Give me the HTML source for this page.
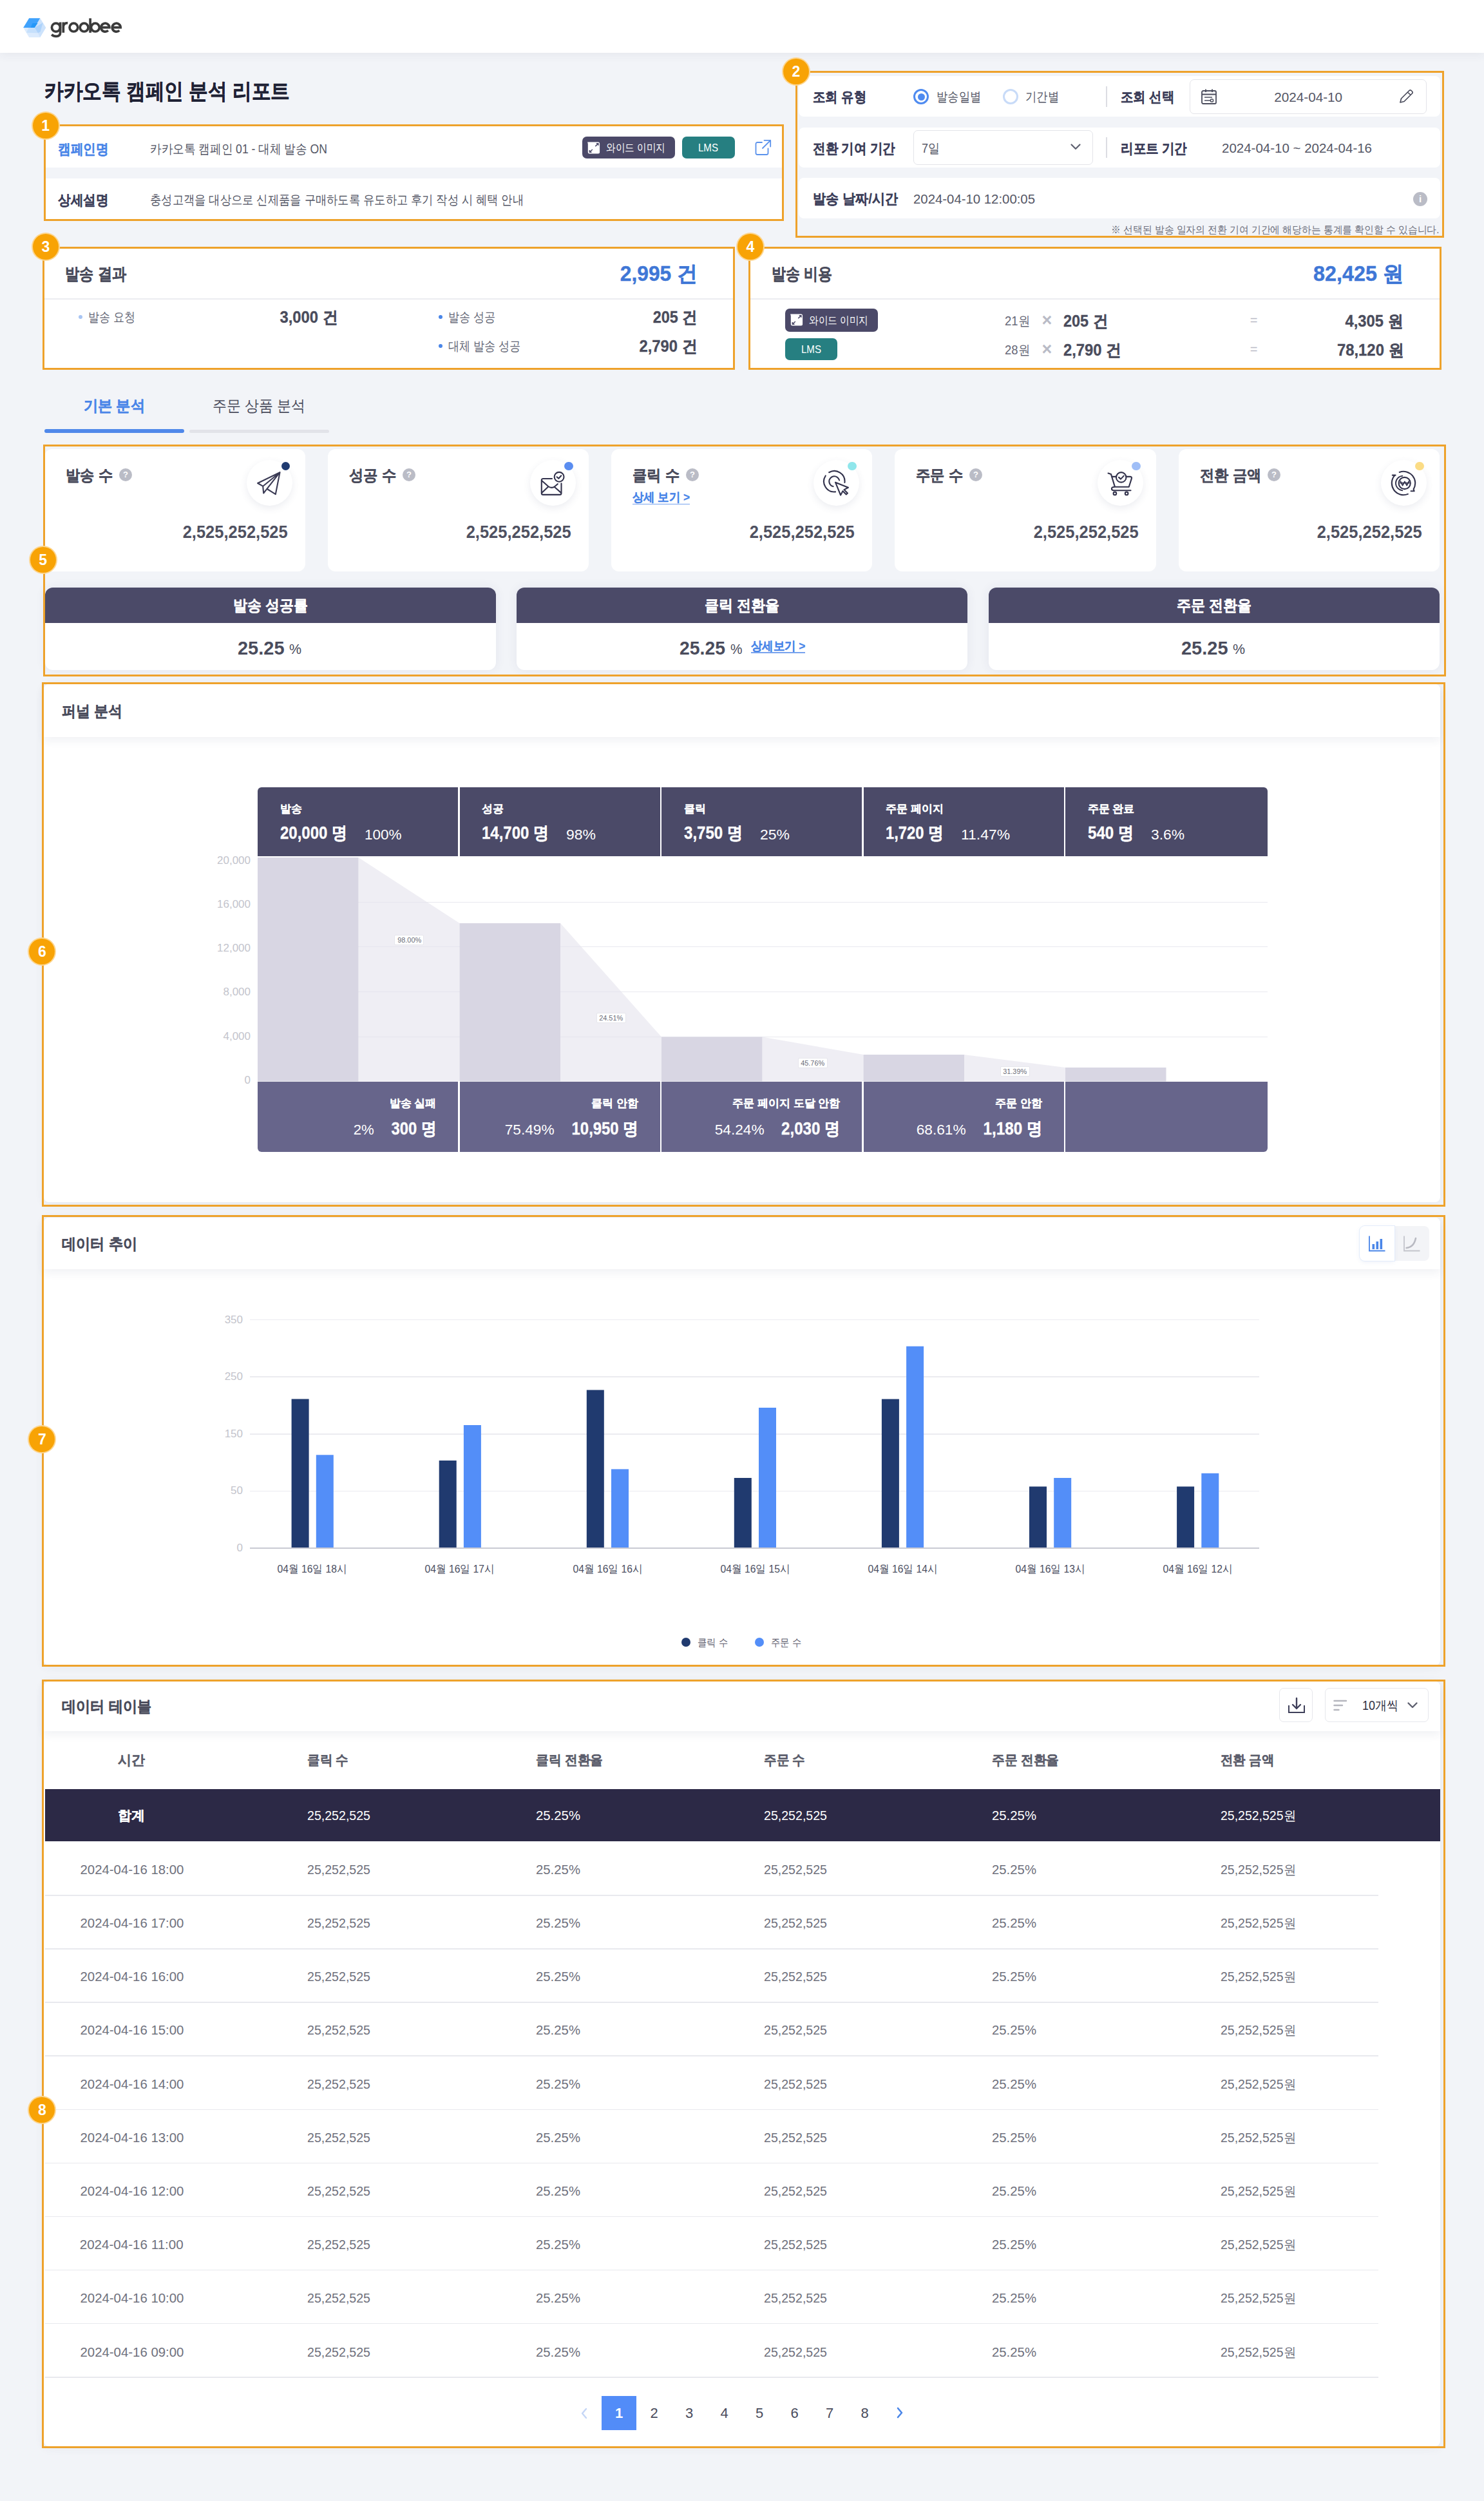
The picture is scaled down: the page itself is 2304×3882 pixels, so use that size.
<!DOCTYPE html>
<html><head><meta charset="utf-8"><title>groobee report</title>
<style>
*{box-sizing:border-box;margin:0;padding:0}
html,body{width:2304px;height:3882px;overflow:hidden}
body{position:relative;background:#f2f4f8;font-family:"Liberation Sans",sans-serif;color:#4a4c5c}
.a{position:absolute;white-space:nowrap}
</style></head><body>
<div class="a" style="left:0.0px;top:0.0px;width:2304.0px;height:82.0px;background:#fff;z-index:2;box-shadow:0 3px 14px rgba(50,55,90,.07)"></div>
<svg class="a" style="left:30.0px;top:22.0px;z-index:3;" width="46" height="40" viewBox="0 0 46 40">
<polygon points="6.2,21.1 15.2,6.2 32.2,6.2 41.2,21.1 32.2,36 15.2,36" fill="#dcebfd"/>
<polygon points="23.6,21.1 32.2,6.2 41.2,21.1 32.2,36 28.8,29.2" fill="#cde3fc"/>
<polygon points="23.6,21.1 36.6,13.2 32.6,27.5 28.8,29.2" fill="#aed3fb"/>
<polygon points="11,28.8 14.5,21.1 23.6,21.1 28.8,29.2" fill="#c6e0fc"/>
<polygon points="6.2,21.1 15.2,6.2 32.2,6.2 23.6,21.1" fill="#3fa2fc"/>
<polygon points="17.5,21.1 20.5,14 28.5,14 23.6,21.1" fill="#2497f8"/>
</svg>
<svg class="a" style="left:74.0px;top:24.0px;z-index:3;" width="120" height="38" viewBox="0 0 120 38"><g stroke="#3b3b3b" stroke-width="3.7" fill="none">
<circle cx="12.9" cy="18.6" r="6.5"/><path d="M19.6 10.5 V26.5 Q19.6 32.3 13.2 32.3 Q9 32.3 6.2 29.6"/>
<path d="M24.3 10.5 V26.8 M24.3 17.5 Q24.6 11.6 31.2 11.6"/>
<circle cx="40.4" cy="18.6" r="6.4"/><circle cx="56.6" cy="18.6" r="6.4"/>
<path d="M66.1 4.4 V26.8"/><circle cx="73.9" cy="18.6" r="6.4"/>
<path d="M82.9 18.6 H95.8 A6.5 6.5 0 1 0 93.9 23.3"/>
<path d="M100.3 18.6 H113.2 A6.5 6.5 0 1 0 111.3 23.3"/>
</g></svg>
<div class="a" style="left:68.5px;top:115.5px;height:51px;line-height:51px;font-size:34.0px;color:#1f2235;font-weight:bold;z-index:5;;-webkit-text-stroke:0.42px #1f2235"><span class="t" id="t1" style="display:inline-block;transform:scaleX(0.8732);transform-origin:left center;">카카오톡 캠페인 분석 리포트</span></div>
<div class="a" style="left:71.0px;top:196.0px;width:1143.0px;height:64.0px;background:#fff;z-index:1;"></div>
<div class="a" style="left:71.0px;top:277.0px;width:1143.0px;height:63.0px;background:#fff;z-index:1;"></div>
<div class="a" style="left:89.5px;top:214.5px;height:33px;line-height:33px;font-size:22.0px;color:#4a86e8;font-weight:bold;z-index:5;;-webkit-text-stroke:0.27px #4a86e8"><span class="t" id="t2" style="display:inline-block;transform:scaleX(0.8920);transform-origin:left center;">캠페인명</span></div>
<div class="a" style="left:232.8px;top:216.0px;height:30px;line-height:30px;font-size:20.0px;color:#555766;font-weight:normal;z-index:5;"><span class="t" id="t3" style="display:inline-block;transform:scaleX(0.8807);transform-origin:left center;">카카오톡 캠페인 01 - 대체 발송 ON</span></div>
<div class="a" style="left:89.5px;top:293.5px;height:33px;line-height:33px;font-size:22.0px;color:#3d3f5a;font-weight:bold;z-index:5;;-webkit-text-stroke:0.27px #3d3f5a"><span class="t" id="t4" style="display:inline-block;transform:scaleX(0.8920);transform-origin:left center;">상세설명</span></div>
<div class="a" style="left:232.8px;top:295.0px;height:30px;line-height:30px;font-size:20.0px;color:#555766;font-weight:normal;z-index:5;"><span class="t" id="t5" style="display:inline-block;transform:scaleX(0.8657);transform-origin:left center;">충성고객을 대상으로 신제품을 구매하도록 유도하고 후기 작성 시 혜택 안내</span></div>
<div class="a" style="left:904.0px;top:211.5px;width:144.0px;height:34.5px;background:#4b4968;z-index:4;border-radius:7px"></div>
<svg class="a" style="left:911.0px;top:218.5px;z-index:5;" width="22" height="22" viewBox="0 0 22 22">
<path d="M1.1 1.4 H17.6 A2.5 2.5 0 0 1 20.1 3.9 V17.1 A2.5 2.5 0 0 1 17.6 19.6 H4.3 A2.5 2.5 0 0 1 1.8 17.1 V4.2 Z" fill="#fff"/>
<path d="M13.3 8.1 L17.9 3.7 M14.8 3.7 H17.9 V6.8 M8.8 13 L4.4 17.2 M4.4 14 V17.2 H7.5" stroke="#4b4968" stroke-width="1.5" fill="none"/>
</svg>
<div class="a" style="left:941.0px;top:217.2px;height:26px;line-height:26px;font-size:17.0px;color:#fff;font-weight:normal;z-index:5;"><span class="t" id="t6" style="display:inline-block;transform:scaleX(0.8620);transform-origin:left center;">와이드 이미지</span></div>
<div class="a" style="left:1059.0px;top:211.5px;width:81.6px;height:34.5px;background:#267f81;z-index:4;border-radius:7px"></div>
<div class="a" style="left:899.8px;width:400px;text-align:center;top:217.2px;height:26px;line-height:26px;font-size:17.0px;color:#fff;font-weight:normal;z-index:5;"><span class="t" id="t7" style="display:inline-block;transform:scaleX(0.8865);transform-origin:center center;">LMS</span></div>
<svg class="a" style="left:1172.0px;top:216.0px;z-index:6;" width="26" height="26" viewBox="0 0 26 26">
<path d="M11 5 H4 A2.5 2.5 0 0 0 1.5 7.5 V21.5 A2.5 2.5 0 0 0 4 24 H18 A2.5 2.5 0 0 0 20.5 21.5 V14.5" stroke="#5b92ec" stroke-width="1.8" fill="none" stroke-linecap="round"/>
<path d="M14.5 1.8 H24.2 V11.5 M24.2 1.8 L12 14" stroke="#5b92ec" stroke-width="1.8" fill="none" stroke-linecap="round" stroke-linejoin="round"/>
</svg>
<div class="a" style="left:68px;top:193px;width:1149px;height:150px;border:3px solid #eea22b;z-index:30"></div>
<div class="a" style="left:50.7px;top:174.6px;width:40px;height:40px;border-radius:50%;background:#f8a305;box-shadow:0 0 0 2px #fdd690;z-index:31;color:#fff;font-weight:bold;font-size:23px;line-height:40px;text-align:center">1</div>
<div class="a" style="left:1239.6px;top:117.7px;width:996.8px;height:63.3px;background:#fff;z-index:1;border-radius:8px"></div>
<div class="a" style="left:1239.6px;top:197.7px;width:996.8px;height:62.3px;background:#fff;z-index:1;border-radius:8px"></div>
<div class="a" style="left:1239.6px;top:276.0px;width:996.8px;height:63.0px;background:#fff;z-index:1;border-radius:8px"></div>
<div class="a" style="left:1261.5px;top:133.5px;height:33px;line-height:33px;font-size:22.0px;color:#3d3f5a;font-weight:bold;z-index:5;;-webkit-text-stroke:0.27px #3d3f5a"><span class="t" id="t8" style="display:inline-block;transform:scaleX(0.8818);transform-origin:left center;">조회 유형</span></div>
<div class="a" style="left:1418px;top:138px;width:24px;height:24px;border-radius:50%;border:3px solid #4f8bf0;z-index:4"></div>
<div class="a" style="left:1424.5px;top:144.5px;width:11px;height:11px;border-radius:50%;background:#4f8bf0;z-index:5"></div>
<div class="a" style="left:1453.6px;top:135.0px;height:30px;line-height:30px;font-size:20.0px;color:#555766;font-weight:normal;z-index:5;"><span class="t" id="t9" style="display:inline-block;transform:scaleX(0.8625);transform-origin:left center;">발송일별</span></div>
<div class="a" style="left:1557px;top:138px;width:24px;height:24px;border-radius:50%;border:3.5px solid #c8dbf8;z-index:4"></div>
<div class="a" style="left:1592.0px;top:135.0px;height:30px;line-height:30px;font-size:20.0px;color:#555766;font-weight:normal;z-index:5;"><span class="t" id="t10" style="display:inline-block;transform:scaleX(0.8667);transform-origin:left center;">기간별</span></div>
<div class="a" style="left:1717.0px;top:134.0px;width:2.0px;height:32.0px;background:#dcdde3;z-index:4;"></div>
<div class="a" style="left:1740.0px;top:133.5px;height:33px;line-height:33px;font-size:22.0px;color:#3d3f5a;font-weight:bold;z-index:5;;-webkit-text-stroke:0.27px #3d3f5a"><span class="t" id="t11" style="display:inline-block;transform:scaleX(0.8818);transform-origin:left center;">조회 선택</span></div>
<div class="a" style="left:1846.5px;top:123.0px;width:368.3px;height:53.5px;background:#fff;z-index:3;border:1.5px solid #e3e4e9;border-radius:7px"></div>
<svg class="a" style="left:1864.0px;top:137.0px;z-index:6;" width="26" height="26" viewBox="0 0 26 26">
<rect x="2" y="4" width="22" height="20" rx="2" stroke="#4a4c5c" stroke-width="1.8" fill="none"/>
<path d="M2 9.5 H24 M8 1.5 V6 M18 1.5 V6" stroke="#4a4c5c" stroke-width="1.8"/>
<path d="M6 14 H18 M6 19 H18" stroke="#4a4c5c" stroke-width="1.5"/>
<rect x="15.5" y="17" width="4" height="4" rx="1" fill="#fff" stroke="#4a4c5c" stroke-width="1.5"/>
</svg>
<div class="a" style="left:1831.0px;width:400px;text-align:center;top:136.0px;height:30px;line-height:30px;font-size:20.0px;color:#555766;font-weight:normal;z-index:5;"><span class="t" id="t12" style="display:inline-block;transform:scaleX(1.0360);transform-origin:center center;">2024-04-10</span></div>
<svg class="a" style="left:2171.0px;top:138.0px;z-index:6;" width="26" height="24" viewBox="0 0 26 24">
<path d="M3 21 L4.5 15 L17 2.5 A2.1 2.1 0 0 1 20 2.5 L21.5 4 A2.1 2.1 0 0 1 21.5 7 L9 19.5 Z M14.5 5 L19 9.5" stroke="#4a4c5c" stroke-width="1.7" fill="none" stroke-linejoin="round"/>
</svg>
<div class="a" style="left:1261.5px;top:213.5px;height:33px;line-height:33px;font-size:22.0px;color:#3d3f5a;font-weight:bold;z-index:5;;-webkit-text-stroke:0.27px #3d3f5a"><span class="t" id="t13" style="display:inline-block;transform:scaleX(0.8874);transform-origin:left center;">전환 기여 기간</span></div>
<div class="a" style="left:1418.0px;top:202.0px;width:278.6px;height:54.0px;background:#fff;z-index:3;border:1.5px solid #e3e4e9;border-radius:7px"></div>
<div class="a" style="left:1431.0px;top:215.0px;height:30px;line-height:30px;font-size:20.0px;color:#555766;font-weight:normal;z-index:5;"><span class="t" id="t14" style="display:inline-block;transform:scaleX(0.8996);transform-origin:left center;">7일</span></div>
<svg class="a" style="left:1661.0px;top:221.0px;z-index:6;" width="18" height="14" viewBox="0 0 18 14"><path d="M2.5 3.5 L9 10 L15.5 3.5" stroke="#5f6170" stroke-width="2.2" fill="none" stroke-linecap="round" stroke-linejoin="round"/></svg>
<div class="a" style="left:1717.0px;top:213.0px;width:2.0px;height:32.0px;background:#dcdde3;z-index:4;"></div>
<div class="a" style="left:1740.0px;top:213.5px;height:33px;line-height:33px;font-size:22.0px;color:#3d3f5a;font-weight:bold;z-index:5;;-webkit-text-stroke:0.27px #3d3f5a"><span class="t" id="t15" style="display:inline-block;transform:scaleX(0.8870);transform-origin:left center;">리포트 기간</span></div>
<div class="a" style="left:1896.6px;top:215.0px;height:30px;line-height:30px;font-size:20.0px;color:#555766;font-weight:normal;z-index:5;"><span class="t" id="t16" style="display:inline-block;transform:scaleX(1.0246);transform-origin:left center;">2024-04-10 ~ 2024-04-16</span></div>
<div class="a" style="left:1261.5px;top:292.0px;height:33px;line-height:33px;font-size:22.0px;color:#3d3f5a;font-weight:bold;z-index:5;;-webkit-text-stroke:0.27px #3d3f5a"><span class="t" id="t17" style="display:inline-block;transform:scaleX(0.9152);transform-origin:left center;">발송 날짜/시간</span></div>
<div class="a" style="left:1418.3px;top:293.5px;height:30px;line-height:30px;font-size:20.0px;color:#555766;font-weight:normal;z-index:5;"><span class="t" id="t18" style="display:inline-block;transform:scaleX(1.0177);transform-origin:left center;">2024-04-10 12:00:05</span></div>
<div class="a" style="left:2194px;top:297.5px;width:22px;height:22px;border-radius:50%;background:#babcc6;z-index:4;color:#fff;font:bold 15px/22px 'Liberation Sans',sans-serif;text-align:center">i</div>
<div class="a" style="right:70.0px;top:345.0px;height:24px;line-height:24px;font-size:16.0px;color:#6d6f7c;font-weight:normal;z-index:5;"><span class="t" id="t19" style="display:inline-block;transform:scaleX(0.9266);transform-origin:right center;">※ 선택된 발송 일자의 전환 기여 기간에 해당하는 통계를 확인할 수 있습니다.</span></div>
<div class="a" style="left:1235px;top:110px;width:1007px;height:259px;border:3px solid #eea22b;z-index:30"></div>
<div class="a" style="left:1216.0px;top:90.5px;width:40px;height:40px;border-radius:50%;background:#f8a305;box-shadow:0 0 0 2px #fdd690;z-index:31;color:#fff;font-weight:bold;font-size:23px;line-height:40px;text-align:center">2</div>
<div class="a" style="left:69.0px;top:386.0px;width:1070.0px;height:186.0px;background:#fff;z-index:1;"></div>
<div class="a" style="left:69.0px;top:463.0px;width:1070.0px;height:2.0px;background:#ebecf0;z-index:2;"></div>
<div class="a" style="left:101.0px;top:405.5px;height:39px;line-height:39px;font-size:26.0px;color:#4a4c5c;font-weight:bold;z-index:5;;-webkit-text-stroke:0.33px #4a4c5c"><span class="t" id="t20" style="display:inline-block;transform:scaleX(0.8541);transform-origin:left center;">발송 결과</span></div>
<div class="a" style="right:1221.0px;top:400.0px;height:50px;line-height:50px;font-size:33.0px;color:#3f77d6;font-weight:bold;z-index:5;;-webkit-text-stroke:0.41px #3f77d6"><span class="t" id="t21" style="display:inline-block;transform:scaleX(0.9619);transform-origin:right center;">2,995 건</span></div>
<div class="a" style="left:122px;top:489px;width:6px;height:6px;border-radius:50%;background:#a9c5f3;z-index:4"></div>
<div class="a" style="left:137.0px;top:477.0px;height:30px;line-height:30px;font-size:20.0px;color:#666877;font-weight:normal;z-index:5;"><span class="t" id="t22" style="display:inline-block;transform:scaleX(0.8532);transform-origin:left center;">발송 요청</span></div>
<div class="a" style="right:1779.5px;top:473.0px;height:38px;line-height:38px;font-size:25.0px;color:#4a4c5c;font-weight:bold;z-index:5;;-webkit-text-stroke:0.31px #4a4c5c"><span class="t" id="t23" style="display:inline-block;transform:scaleX(0.9522);transform-origin:right center;">3,000 건</span></div>
<div class="a" style="left:681px;top:489px;width:6px;height:6px;border-radius:50%;background:#4a86e8;z-index:4"></div>
<div class="a" style="left:696.0px;top:477.0px;height:30px;line-height:30px;font-size:20.0px;color:#666877;font-weight:normal;z-index:5;"><span class="t" id="t24" style="display:inline-block;transform:scaleX(0.8532);transform-origin:left center;">발송 성공</span></div>
<div class="a" style="right:1221.0px;top:473.0px;height:38px;line-height:38px;font-size:25.0px;color:#4a4c5c;font-weight:bold;z-index:5;;-webkit-text-stroke:0.31px #4a4c5c"><span class="t" id="t25" style="display:inline-block;transform:scaleX(0.9366);transform-origin:right center;">205 건</span></div>
<div class="a" style="left:681px;top:534px;width:6px;height:6px;border-radius:50%;background:#4a86e8;z-index:4"></div>
<div class="a" style="left:696.0px;top:521.7px;height:30px;line-height:30px;font-size:20.0px;color:#666877;font-weight:normal;z-index:5;"><span class="t" id="t26" style="display:inline-block;transform:scaleX(0.8541);transform-origin:left center;">대체 발송 성공</span></div>
<div class="a" style="right:1221.0px;top:517.7px;height:38px;line-height:38px;font-size:25.0px;color:#4a4c5c;font-weight:bold;z-index:5;;-webkit-text-stroke:0.31px #4a4c5c"><span class="t" id="t27" style="display:inline-block;transform:scaleX(0.9522);transform-origin:right center;">2,790 건</span></div>
<div class="a" style="left:66px;top:383px;width:1075px;height:191px;border:3px solid #eea22b;z-index:30"></div>
<div class="a" style="left:50.8px;top:363.0px;width:40px;height:40px;border-radius:50%;background:#f8a305;box-shadow:0 0 0 2px #fdd690;z-index:31;color:#fff;font-weight:bold;font-size:23px;line-height:40px;text-align:center">3</div>
<div class="a" style="left:1165.0px;top:386.0px;width:1071.0px;height:186.0px;background:#fff;z-index:1;"></div>
<div class="a" style="left:1165.0px;top:463.0px;width:1071.0px;height:2.0px;background:#ebecf0;z-index:2;"></div>
<div class="a" style="left:1197.7px;top:405.5px;height:39px;line-height:39px;font-size:26.0px;color:#4a4c5c;font-weight:bold;z-index:5;;-webkit-text-stroke:0.33px #4a4c5c"><span class="t" id="t28" style="display:inline-block;transform:scaleX(0.8451);transform-origin:left center;">발송 비용</span></div>
<div class="a" style="right:125.0px;top:400.0px;height:50px;line-height:50px;font-size:33.0px;color:#3f77d6;font-weight:bold;z-index:5;;-webkit-text-stroke:0.41px #3f77d6"><span class="t" id="t29" style="display:inline-block;transform:scaleX(0.9783);transform-origin:right center;">82,425 원</span></div>
<div class="a" style="left:1218.7px;top:479.0px;width:144.3px;height:35.5px;background:#4b4968;z-index:4;border-radius:7px"></div>
<svg class="a" style="left:1225.7px;top:486.0px;z-index:5;" width="22" height="22" viewBox="0 0 22 22">
<path d="M1.1 1.4 H17.6 A2.5 2.5 0 0 1 20.1 3.9 V17.1 A2.5 2.5 0 0 1 17.6 19.6 H4.3 A2.5 2.5 0 0 1 1.8 17.1 V4.2 Z" fill="#fff"/>
<path d="M13.3 8.1 L17.9 3.7 M14.8 3.7 H17.9 V6.8 M8.8 13 L4.4 17.2 M4.4 14 V17.2 H7.5" stroke="#4b4968" stroke-width="1.5" fill="none"/>
</svg>
<div class="a" style="left:1255.7px;top:485.2px;height:26px;line-height:26px;font-size:17.0px;color:#fff;font-weight:normal;z-index:5;"><span class="t" id="t30" style="display:inline-block;transform:scaleX(0.8620);transform-origin:left center;">와이드 이미지</span></div>
<div class="a" style="left:1218.7px;top:524.6px;width:81.7px;height:34.7px;background:#267f81;z-index:4;border-radius:7px"></div>
<div class="a" style="left:1059.6px;width:400px;text-align:center;top:530.4px;height:26px;line-height:26px;font-size:17.0px;color:#fff;font-weight:normal;z-index:5;"><span class="t" id="t31" style="display:inline-block;transform:scaleX(0.8865);transform-origin:center center;">LMS</span></div>
<div class="a" style="left:1559.6px;top:482.5px;height:30px;line-height:30px;font-size:20.0px;color:#666877;font-weight:normal;z-index:5;"><span class="t" id="t32" style="display:inline-block;transform:scaleX(0.9231);transform-origin:left center;">21원</span></div>
<div class="a" style="left:1425.5px;width:400px;text-align:center;top:477.0px;height:40px;line-height:40px;font-size:27.0px;color:#b9bbc6;font-weight:bold;z-index:5;"><span class="t" id="t33" style="display:inline-block;">×</span></div>
<div class="a" style="left:1650.6px;top:478.5px;height:38px;line-height:38px;font-size:25.0px;color:#4a4c5c;font-weight:bold;z-index:5;;-webkit-text-stroke:0.31px #4a4c5c"><span class="t" id="t34" style="display:inline-block;transform:scaleX(0.9366);transform-origin:left center;">205 건</span></div>
<div class="a" style="left:1746.7px;width:400px;text-align:center;top:482.0px;height:30px;line-height:30px;font-size:20.0px;color:#b9bbc6;font-weight:normal;z-index:5;"><span class="t" id="t35" style="display:inline-block;">=</span></div>
<div class="a" style="right:125.0px;top:479.0px;height:38px;line-height:38px;font-size:25.0px;color:#4a4c5c;font-weight:bold;z-index:5;;-webkit-text-stroke:0.31px #4a4c5c"><span class="t" id="t36" style="display:inline-block;transform:scaleX(0.9522);transform-origin:right center;">4,305 원</span></div>
<div class="a" style="left:1559.6px;top:527.8px;height:30px;line-height:30px;font-size:20.0px;color:#666877;font-weight:normal;z-index:5;"><span class="t" id="t37" style="display:inline-block;transform:scaleX(0.9231);transform-origin:left center;">28원</span></div>
<div class="a" style="left:1425.5px;width:400px;text-align:center;top:522.3px;height:40px;line-height:40px;font-size:27.0px;color:#b9bbc6;font-weight:bold;z-index:5;"><span class="t" id="t38" style="display:inline-block;">×</span></div>
<div class="a" style="left:1650.6px;top:523.8px;height:38px;line-height:38px;font-size:25.0px;color:#4a4c5c;font-weight:bold;z-index:5;;-webkit-text-stroke:0.31px #4a4c5c"><span class="t" id="t39" style="display:inline-block;transform:scaleX(0.9522);transform-origin:left center;">2,790 건</span></div>
<div class="a" style="left:1746.7px;width:400px;text-align:center;top:527.0px;height:30px;line-height:30px;font-size:20.0px;color:#b9bbc6;font-weight:normal;z-index:5;"><span class="t" id="t40" style="display:inline-block;">=</span></div>
<div class="a" style="right:125.0px;top:524.0px;height:38px;line-height:38px;font-size:25.0px;color:#4a4c5c;font-weight:bold;z-index:5;;-webkit-text-stroke:0.31px #4a4c5c"><span class="t" id="t41" style="display:inline-block;transform:scaleX(0.9546);transform-origin:right center;">78,120 원</span></div>
<div class="a" style="left:1162px;top:383px;width:1076px;height:191px;border:3px solid #eea22b;z-index:30"></div>
<div class="a" style="left:1145.0px;top:363.0px;width:40px;height:40px;border-radius:50%;background:#f8a305;box-shadow:0 0 0 2px #fdd690;z-index:31;color:#fff;font-weight:bold;font-size:23px;line-height:40px;text-align:center">4</div>
<div class="a" style="left:-23.0px;width:400px;text-align:center;top:611.5px;height:36px;line-height:36px;font-size:24.0px;color:#4a86e8;font-weight:bold;z-index:5;;-webkit-text-stroke:0.30px #4a86e8"><span class="t" id="t42" style="display:inline-block;transform:scaleX(0.9253);transform-origin:center center;">기본 분석</span></div>
<div class="a" style="left:201.7px;width:400px;text-align:center;top:611.5px;height:36px;line-height:36px;font-size:24.0px;color:#4a4c5c;font-weight:normal;z-index:5;"><span class="t" id="t43" style="display:inline-block;transform:scaleX(0.9152);transform-origin:center center;">주문 상품 분석</span></div>
<div class="a" style="left:68.7px;top:666.0px;width:217.6px;height:6.0px;background:#4f88ea;z-index:1;border-radius:3px"></div>
<div class="a" style="left:293.6px;top:666.5px;width:217.9px;height:5.0px;background:#e2e3e9;z-index:1;border-radius:3px"></div>
<div class="a" style="left:69.0px;top:696.5px;width:405.4px;height:190.5px;background:#fff;z-index:1;border-radius:12px"></div>
<div class="a" style="left:102.0px;top:719.5px;height:36px;line-height:36px;font-size:24.0px;color:#4a4c5c;font-weight:bold;z-index:5;;-webkit-text-stroke:0.30px #4a4c5c"><span class="t" id="t44" style="display:inline-block;transform:scaleX(0.9279);transform-origin:left center;">발송 수</span></div>
<div class="a" style="left:185.0px;top:727px;width:20px;height:20px;border-radius:50%;background:#babcc6;color:#fff;font:bold 13px/20px 'Liberation Sans',sans-serif;text-align:center;z-index:5">?</div>
<div class="a" style="left:383.4px;top:714.0px;width:71px;height:71px;border-radius:50%;background:#fff;box-shadow:0 4px 12px rgba(70,75,120,.10);z-index:4"></div>
<svg class="a" style="left:393.9px;top:724.5px;z-index:5;" width="50" height="50" viewBox="0 0 50 50"><path d="M40.5 8.2 L6.1 25 L14.2 29.7 Z M14.2 29.7 L15.2 40.5 L40.5 8.2 M21.6 34.5 L33.8 42.2 L40.5 8.2" stroke="#3b3b55" stroke-width="2.1" fill="none" stroke-linecap="round" stroke-linejoin="round"/></svg>
<div class="a" style="left:436.7px;top:716.8px;width:13.4px;height:13.4px;border-radius:50%;background:#1f3a70;z-index:6"></div>
<div class="a" style="right:1857.0px;top:805.5px;height:40px;line-height:40px;font-size:27.0px;color:#4f5161;font-weight:bold;z-index:5;"><span class="t" id="t45" style="display:inline-block;transform:scaleX(0.9440);transform-origin:right center;">2,525,252,525</span></div>
<div class="a" style="left:509.0px;top:696.5px;width:405.0px;height:190.5px;background:#fff;z-index:1;border-radius:12px"></div>
<div class="a" style="left:542.0px;top:719.5px;height:36px;line-height:36px;font-size:24.0px;color:#4a4c5c;font-weight:bold;z-index:5;;-webkit-text-stroke:0.30px #4a4c5c"><span class="t" id="t46" style="display:inline-block;transform:scaleX(0.9279);transform-origin:left center;">성공 수</span></div>
<div class="a" style="left:625.0px;top:727px;width:20px;height:20px;border-radius:50%;background:#babcc6;color:#fff;font:bold 13px/20px 'Liberation Sans',sans-serif;text-align:center;z-index:5">?</div>
<div class="a" style="left:823.0px;top:714.0px;width:71px;height:71px;border-radius:50%;background:#fff;box-shadow:0 4px 12px rgba(70,75,120,.10);z-index:4"></div>
<svg class="a" style="left:833.5px;top:724.5px;z-index:5;" width="50" height="50" viewBox="0 0 50 50"><path d="M23 18 H9.3 Q6.8 18 6.8 20.5 V40.4 Q6.8 42.9 9.3 42.9 H35 Q37.5 42.9 37.5 40.4 V25.4" stroke="#33334d" stroke-width="2.1" fill="none" stroke-linecap="round" stroke-linejoin="round"/><circle cx="34.1" cy="15.3" r="7.4" stroke="#33334d" stroke-width="2.1" fill="none" stroke-linecap="round" stroke-linejoin="round"/><path d="M7.4 21.3 L17 29.8 Q22.3 34 27.7 29.8 L31.8 26.2 M7.4 39.8 L16.6 31 M27 31 L36.8 39.6 M30.6 15.3 L33.3 17.8 L37.3 13.3" stroke="#33334d" stroke-width="2.1" fill="none" stroke-linecap="round" stroke-linejoin="round"/></svg>
<div class="a" style="left:876.3px;top:716.8px;width:13.4px;height:13.4px;border-radius:50%;background:#5a8df0;z-index:6"></div>
<div class="a" style="right:1417.4px;top:805.5px;height:40px;line-height:40px;font-size:27.0px;color:#4f5161;font-weight:bold;z-index:5;"><span class="t" id="t47" style="display:inline-block;transform:scaleX(0.9440);transform-origin:right center;">2,525,252,525</span></div>
<div class="a" style="left:949.0px;top:696.5px;width:405.0px;height:190.5px;background:#fff;z-index:1;border-radius:12px"></div>
<div class="a" style="left:982.0px;top:719.5px;height:36px;line-height:36px;font-size:24.0px;color:#4a4c5c;font-weight:bold;z-index:5;;-webkit-text-stroke:0.30px #4a4c5c"><span class="t" id="t48" style="display:inline-block;transform:scaleX(0.9279);transform-origin:left center;">클릭 수</span></div>
<div class="a" style="left:1065.0px;top:727px;width:20px;height:20px;border-radius:50%;background:#babcc6;color:#fff;font:bold 13px/20px 'Liberation Sans',sans-serif;text-align:center;z-index:5">?</div>
<div class="a" style="left:1263.0px;top:714.0px;width:71px;height:71px;border-radius:50%;background:#fff;box-shadow:0 4px 12px rgba(70,75,120,.10);z-index:4"></div>
<svg class="a" style="left:1273.5px;top:724.5px;z-index:5;" width="50" height="50" viewBox="0 0 50 50"><path d="M13.20 8.27 A16.20 16.20 0 0 1 37.41 23.99 M22.99 38.41 A16.20 16.20 0 0 1 7.71 13.48 M19.50 30.09 A8.00 8.00 0 1 1 29.06 20.36" stroke="#33334d" stroke-width="2.1" fill="none" stroke-linecap="round" stroke-linejoin="round"/><path d="M23 23.7 L42.9 31.8 L36.5 35.1 L41.9 40.5 L39.8 42.5 L34.5 37.2 L31.1 43.5 Z" stroke="#33334d" stroke-width="2.1" fill="none" stroke-linecap="round" stroke-linejoin="round"/></svg>
<div class="a" style="left:1316.3px;top:716.8px;width:13.4px;height:13.4px;border-radius:50%;background:#8fe6eb;z-index:6"></div>
<div class="a" style="right:977.4px;top:805.5px;height:40px;line-height:40px;font-size:27.0px;color:#4f5161;font-weight:bold;z-index:5;"><span class="t" id="t49" style="display:inline-block;transform:scaleX(0.9440);transform-origin:right center;">2,525,252,525</span></div>
<div class="a" style="left:1389.0px;top:696.5px;width:406.0px;height:190.5px;background:#fff;z-index:1;border-radius:12px"></div>
<div class="a" style="left:1422.0px;top:719.5px;height:36px;line-height:36px;font-size:24.0px;color:#4a4c5c;font-weight:bold;z-index:5;;-webkit-text-stroke:0.30px #4a4c5c"><span class="t" id="t50" style="display:inline-block;transform:scaleX(0.9279);transform-origin:left center;">주문 수</span></div>
<div class="a" style="left:1505.0px;top:727px;width:20px;height:20px;border-radius:50%;background:#babcc6;color:#fff;font:bold 13px/20px 'Liberation Sans',sans-serif;text-align:center;z-index:5">?</div>
<div class="a" style="left:1704.0px;top:714.0px;width:71px;height:71px;border-radius:50%;background:#fff;box-shadow:0 4px 12px rgba(70,75,120,.10);z-index:4"></div>
<svg class="a" style="left:1714.5px;top:724.5px;z-index:5;" width="50" height="50" viewBox="0 0 50 50"><path d="M5.5 9.5 L9.9 10.9 L15.9 30.6 M10.9 14.9 H17.8 M33.6 14.9 H40 Q42.4 15.2 41.9 17.6 L37.7 30.8 H15.9 Q10.9 30.8 10.9 33.5 Q10.9 36.2 14.2 36.2 H40.5" stroke="#33334d" stroke-width="2.1" fill="none" stroke-linecap="round" stroke-linejoin="round"/><circle cx="15.9" cy="40.9" r="2.3" stroke="#33334d" stroke-width="2.1" fill="none" stroke-linecap="round" stroke-linejoin="round"/><circle cx="34.1" cy="40.9" r="2.3" stroke="#33334d" stroke-width="2.1" fill="none" stroke-linecap="round" stroke-linejoin="round"/><circle cx="25.7" cy="15.9" r="7.75" stroke="#33334d" stroke-width="2.1" fill="none" stroke-linecap="round" stroke-linejoin="round"/><path d="M22 15.9 L25 18.6 L29.7 13.6" stroke="#33334d" stroke-width="2.1" fill="none" stroke-linecap="round" stroke-linejoin="round"/></svg>
<div class="a" style="left:1757.3px;top:716.8px;width:13.4px;height:13.4px;border-radius:50%;background:#9fbef7;z-index:6"></div>
<div class="a" style="right:536.4px;top:805.5px;height:40px;line-height:40px;font-size:27.0px;color:#4f5161;font-weight:bold;z-index:5;"><span class="t" id="t51" style="display:inline-block;transform:scaleX(0.9440);transform-origin:right center;">2,525,252,525</span></div>
<div class="a" style="left:1830.0px;top:696.5px;width:405.0px;height:190.5px;background:#fff;z-index:1;border-radius:12px"></div>
<div class="a" style="left:1863.0px;top:719.5px;height:36px;line-height:36px;font-size:24.0px;color:#4a4c5c;font-weight:bold;z-index:5;;-webkit-text-stroke:0.30px #4a4c5c"><span class="t" id="t52" style="display:inline-block;transform:scaleX(0.9253);transform-origin:left center;">전환 금액</span></div>
<div class="a" style="left:1968.0px;top:727px;width:20px;height:20px;border-radius:50%;background:#babcc6;color:#fff;font:bold 13px/20px 'Liberation Sans',sans-serif;text-align:center;z-index:5">?</div>
<div class="a" style="left:2144.0px;top:714.0px;width:71px;height:71px;border-radius:50%;background:#fff;box-shadow:0 4px 12px rgba(70,75,120,.10);z-index:4"></div>
<svg class="a" style="left:2154.5px;top:724.5px;z-index:5;" width="50" height="50" viewBox="0 0 50 50"><path d="M17.78 7.90 A18.20 18.20 0 0 1 39.60 34.37 L40.6 37.3 L35.6 37.3 M30.82 41.87 A18.20 18.20 0 0 1 10.69 12.59 M6.8 12.6 H11.6" stroke="#33334d" stroke-width="2.1" fill="none" stroke-linecap="round" stroke-linejoin="round"/><circle cx="25.7" cy="25" r="9.1" stroke="#33334d" stroke-width="2.1" fill="none" stroke-linecap="round" stroke-linejoin="round"/><path d="M22.41 36.36 A11.40 11.40 0 0 1 22.41 13.64" stroke="#33334d" stroke-width="1.8" fill="none" stroke-linecap="round" stroke-linejoin="round"/><path d="M19.3 22 L22.6 28.7 L25.9 22.5 L29.2 28.7 L32.5 22 M18.8 24.6 H33" stroke="#33334d" stroke-width="1.7" fill="none" stroke-linecap="round" stroke-linejoin="round"/></svg>
<div class="a" style="left:2197.3px;top:716.8px;width:13.4px;height:13.4px;border-radius:50%;background:#fbdc85;z-index:6"></div>
<div class="a" style="right:96.4px;top:805.5px;height:40px;line-height:40px;font-size:27.0px;color:#4f5161;font-weight:bold;z-index:5;"><span class="t" id="t53" style="display:inline-block;transform:scaleX(0.9440);transform-origin:right center;">2,525,252,525</span></div>
<div class="a" style="left:981.5px;top:758.0px;height:28px;line-height:28px;font-size:19.0px;color:#4a86e8;font-weight:bold;z-index:5;;-webkit-text-stroke:0.24px #4a86e8"><span class="t" id="t54" style="display:inline-block;transform:scaleX(0.9114);transform-origin:left center;">상세 보기 &gt;</span></div>
<div class="a" style="left:981.5px;top:781.5px;width:89.0px;height:1.5px;background:#78a3ee;z-index:5;"></div>
<div class="a" style="left:70.0px;top:912.0px;width:699.5px;height:128.0px;background:#fff;z-index:1;border-radius:12px;overflow:hidden;box-shadow:0 0 16px rgba(60,65,110,.08)"><div style="position:absolute;left:0;top:0;width:700px;height:55px;background:#4b4a68"></div></div>
<div class="a" style="left:220.0px;width:400px;text-align:center;top:922.0px;height:36px;line-height:36px;font-size:24.0px;color:#fff;font-weight:bold;z-index:5;;-webkit-text-stroke:0.30px #fff"><span class="t" id="t55" style="display:inline-block;transform:scaleX(0.9158);transform-origin:center center;">발송 성공률</span></div>
<div class="a" style="left:802.0px;top:912.0px;width:699.5px;height:128.0px;background:#fff;z-index:1;border-radius:12px;overflow:hidden;box-shadow:0 0 16px rgba(60,65,110,.08)"><div style="position:absolute;left:0;top:0;width:700px;height:55px;background:#4b4a68"></div></div>
<div class="a" style="left:952.0px;width:400px;text-align:center;top:922.0px;height:36px;line-height:36px;font-size:24.0px;color:#fff;font-weight:bold;z-index:5;;-webkit-text-stroke:0.30px #fff"><span class="t" id="t56" style="display:inline-block;transform:scaleX(0.9158);transform-origin:center center;">클릭 전환율</span></div>
<div class="a" style="left:1535.0px;top:912.0px;width:699.5px;height:128.0px;background:#fff;z-index:1;border-radius:12px;overflow:hidden;box-shadow:0 0 16px rgba(60,65,110,.08)"><div style="position:absolute;left:0;top:0;width:700px;height:55px;background:#4b4a68"></div></div>
<div class="a" style="left:1685.0px;width:400px;text-align:center;top:922.0px;height:36px;line-height:36px;font-size:24.0px;color:#fff;font-weight:bold;z-index:5;;-webkit-text-stroke:0.30px #fff"><span class="t" id="t57" style="display:inline-block;transform:scaleX(0.9158);transform-origin:center center;">주문 전환율</span></div>
<div class="a" style="left:369.3px;top:982.5px;height:45px;line-height:45px;font-size:30.0px;color:#4a4c5c;font-weight:bold;z-index:5;"><span class="t" id="t58" style="display:inline-block;transform:scaleX(0.9657);transform-origin:left center;">25.25</span></div>
<div class="a" style="left:449.0px;top:990.5px;height:33px;line-height:33px;font-size:22.0px;color:#4a4c5c;font-weight:normal;z-index:5;"><span class="t" id="t59" style="display:inline-block;transform:scaleX(0.9712);transform-origin:left center;">%</span></div>
<div class="a" style="left:1834.3px;top:982.5px;height:45px;line-height:45px;font-size:30.0px;color:#4a4c5c;font-weight:bold;z-index:5;"><span class="t" id="t60" style="display:inline-block;transform:scaleX(0.9657);transform-origin:left center;">25.25</span></div>
<div class="a" style="left:1914.0px;top:990.5px;height:33px;line-height:33px;font-size:22.0px;color:#4a4c5c;font-weight:normal;z-index:5;"><span class="t" id="t61" style="display:inline-block;transform:scaleX(0.9712);transform-origin:left center;">%</span></div>
<div class="a" style="left:1055.0px;top:982.5px;height:45px;line-height:45px;font-size:30.0px;color:#4a4c5c;font-weight:bold;z-index:5;"><span class="t" id="t62" style="display:inline-block;transform:scaleX(0.9457);transform-origin:left center;">25.25</span></div>
<div class="a" style="left:1134.3px;top:990.5px;height:33px;line-height:33px;font-size:22.0px;color:#4a4c5c;font-weight:normal;z-index:5;"><span class="t" id="t63" style="display:inline-block;transform:scaleX(0.9457);transform-origin:left center;">%</span></div>
<div class="a" style="left:1165.6px;top:989.0px;height:28px;line-height:28px;font-size:19.0px;color:#4a86e8;font-weight:bold;z-index:5;;-webkit-text-stroke:0.24px #4a86e8"><span class="t" id="t64" style="display:inline-block;transform:scaleX(0.9147);transform-origin:left center;">상세보기 &gt;</span></div>
<div class="a" style="left:1165.6px;top:1012.0px;width:84.5px;height:1.5px;background:#78a3ee;z-index:5;"></div>
<div class="a" style="left:67px;top:690px;width:2178px;height:360px;border:3px solid #eea22b;z-index:30"></div>
<div class="a" style="left:46.7px;top:849.0px;width:40px;height:40px;border-radius:50%;background:#f8a305;box-shadow:0 0 0 2px #fdd690;z-index:31;color:#fff;font-weight:bold;font-size:23px;line-height:40px;text-align:center">5</div>
<div class="a" style="left:68.0px;top:1062.0px;width:2168.0px;height:804.0px;background:#fff;z-index:1;border-radius:8px;box-shadow:0 2px 16px rgba(60,65,100,.07)"></div>
<div class="a" style="left:68.0px;top:1062.0px;width:2168.0px;height:81.5px;background:#fff;z-index:2;border-radius:8px 8px 0 0;box-shadow:0 6px 14px rgba(60,65,110,.07)"></div>
<div class="a" style="left:96.0px;top:1085.8px;height:36px;line-height:36px;font-size:24.0px;color:#4a4c5c;font-weight:bold;z-index:3;;-webkit-text-stroke:0.30px #4a4c5c"><span class="t" id="t65" style="display:inline-block;transform:scaleX(0.9155);transform-origin:left center;">퍼널 분석</span></div>
<div class="a" style="left:400.0px;top:1399.8px;width:1567.5px;height:1.5px;background:#e9e9ef;z-index:2;"></div>
<div class="a" style="left:400.0px;top:1468.8px;width:1567.5px;height:1.5px;background:#e9e9ef;z-index:2;"></div>
<div class="a" style="left:400.0px;top:1538.8px;width:1567.5px;height:1.5px;background:#e9e9ef;z-index:2;"></div>
<div class="a" style="left:400.0px;top:1608.8px;width:1567.5px;height:1.5px;background:#e9e9ef;z-index:2;"></div>
<div class="a" style="right:1915.0px;top:1322.8px;height:26px;line-height:26px;font-size:17.0px;color:#c3c4cc;font-weight:normal;z-index:3;"><span class="t" id="t66" style="display:inline-block;">20,000</span></div>
<div class="a" style="right:1915.0px;top:1390.8px;height:26px;line-height:26px;font-size:17.0px;color:#c3c4cc;font-weight:normal;z-index:3;"><span class="t" id="t67" style="display:inline-block;">16,000</span></div>
<div class="a" style="right:1915.0px;top:1459.0px;height:26px;line-height:26px;font-size:17.0px;color:#c3c4cc;font-weight:normal;z-index:3;"><span class="t" id="t68" style="display:inline-block;">12,000</span></div>
<div class="a" style="right:1915.0px;top:1527.0px;height:26px;line-height:26px;font-size:17.0px;color:#c3c4cc;font-weight:normal;z-index:3;"><span class="t" id="t69" style="display:inline-block;">8,000</span></div>
<div class="a" style="right:1915.0px;top:1595.6px;height:26px;line-height:26px;font-size:17.0px;color:#c3c4cc;font-weight:normal;z-index:3;"><span class="t" id="t70" style="display:inline-block;">4,000</span></div>
<div class="a" style="right:1915.0px;top:1663.5px;height:26px;line-height:26px;font-size:17.0px;color:#c3c4cc;font-weight:normal;z-index:3;"><span class="t" id="t71" style="display:inline-block;">0</span></div>
<svg class="a" style="left:400.0px;top:1300.0px;z-index:3;" width="1568" height="380" viewBox="0 0 1568 380"><polygon points="156.5,31.0 313.5,133.0 313.5,378.5 156.5,378.5" fill="#e4e3ec" fill-opacity=".6"/><polygon points="470.0,133.0 627.0,309.5 627.0,378.5 470.0,378.5" fill="#e4e3ec" fill-opacity=".6"/><polygon points="783.5,309.5 940.5,337.0 940.5,378.5 783.5,378.5" fill="#e4e3ec" fill-opacity=".6"/><polygon points="1097.0,337.0 1254.0,357.0 1254.0,378.5 1097.0,378.5" fill="#e4e3ec" fill-opacity=".6"/><rect x="0.0" y="31.0" width="156.5" height="347.5" fill="#d8d6e3"/><rect x="313.5" y="133.0" width="156.5" height="245.5" fill="#d8d6e3"/><rect x="627.0" y="309.5" width="156.5" height="69.0" fill="#d8d6e3"/><rect x="940.5" y="337.0" width="156.5" height="41.5" fill="#d8d6e3"/><rect x="1254.0" y="357.0" width="156.5" height="21.5" fill="#d8d6e3"/></svg>
<div class="a" style="left:612.3px;top:1451.3px;width:46px;height:16px;background:#fff;border:1px solid #e6e6ec;border-radius:2px;z-index:4"></div>
<div class="a" style="left:435.3px;width:400px;text-align:center;top:1451.3px;height:16px;line-height:16px;font-size:11.0px;color:#6a6c78;font-weight:normal;z-index:5;"><span class="t" id="t72" style="display:inline-block;transform:scaleX(0.9916);transform-origin:center center;">98.00%</span></div>
<div class="a" style="left:926.0px;top:1572.0px;width:46px;height:16px;background:#fff;border:1px solid #e6e6ec;border-radius:2px;z-index:4"></div>
<div class="a" style="left:749.0px;width:400px;text-align:center;top:1572.0px;height:16px;line-height:16px;font-size:11.0px;color:#6a6c78;font-weight:normal;z-index:5;"><span class="t" id="t73" style="display:inline-block;transform:scaleX(0.9916);transform-origin:center center;">24.51%</span></div>
<div class="a" style="left:1239.0px;top:1641.5px;width:46px;height:16px;background:#fff;border:1px solid #e6e6ec;border-radius:2px;z-index:4"></div>
<div class="a" style="left:1062.0px;width:400px;text-align:center;top:1641.5px;height:16px;line-height:16px;font-size:11.0px;color:#6a6c78;font-weight:normal;z-index:5;"><span class="t" id="t74" style="display:inline-block;transform:scaleX(0.9916);transform-origin:center center;">45.76%</span></div>
<div class="a" style="left:1553.0px;top:1655.0px;width:46px;height:16px;background:#fff;border:1px solid #e6e6ec;border-radius:2px;z-index:4"></div>
<div class="a" style="left:1376.0px;width:400px;text-align:center;top:1655.0px;height:16px;line-height:16px;font-size:11.0px;color:#6a6c78;font-weight:normal;z-index:5;"><span class="t" id="t75" style="display:inline-block;transform:scaleX(0.9916);transform-origin:center center;">31.39%</span></div>
<div class="a" style="left:400.0px;top:1221.6px;width:1567.5px;height:107.8px;background:#4b4a68;z-index:3;border-radius:6px 6px 0 0"></div>
<div class="a" style="left:400.0px;top:1678.9px;width:1567.5px;height:108.9px;background:#67658b;z-index:3;border-radius:0 0 6px 6px"></div>
<div class="a" style="left:711.0px;top:1221.0px;width:2.5px;height:109.0px;background:#fff;z-index:4;"></div>
<div class="a" style="left:711.0px;top:1678.0px;width:2.5px;height:111.0px;background:#fff;z-index:4;"></div>
<div class="a" style="left:1024.5px;top:1221.0px;width:2.5px;height:109.0px;background:#fff;z-index:4;"></div>
<div class="a" style="left:1024.5px;top:1678.0px;width:2.5px;height:111.0px;background:#fff;z-index:4;"></div>
<div class="a" style="left:1338.0px;top:1221.0px;width:2.5px;height:109.0px;background:#fff;z-index:4;"></div>
<div class="a" style="left:1338.0px;top:1678.0px;width:2.5px;height:111.0px;background:#fff;z-index:4;"></div>
<div class="a" style="left:1651.5px;top:1221.0px;width:2.5px;height:109.0px;background:#fff;z-index:4;"></div>
<div class="a" style="left:1651.5px;top:1678.0px;width:2.5px;height:111.0px;background:#fff;z-index:4;"></div>
<div class="a" style="left:434.5px;top:1242.5px;height:26px;line-height:26px;font-size:17.0px;color:#fff;font-weight:bold;z-index:5;;-webkit-text-stroke:0.21px #fff"><span class="t" id="t76" style="display:inline-block;">발송</span></div>
<div class="a" style="left:434.5px;top:1273.0px;height:40px;line-height:40px;font-size:27.0px;color:#fff;font-weight:bold;z-index:5;;-webkit-text-stroke:0.34px #fff"><span class="t" id="t77" style="display:inline-block;transform:scaleX(0.8882);transform-origin:left center;">20,000 명</span></div>
<div class="a" style="left:565.5px;top:1278.5px;height:33px;line-height:33px;font-size:22.0px;color:#fff;font-weight:normal;z-index:5;"><span class="t" id="t78" style="display:inline-block;transform:scaleX(1.0234);transform-origin:left center;">100%</span></div>
<div class="a" style="left:748.0px;top:1242.5px;height:26px;line-height:26px;font-size:17.0px;color:#fff;font-weight:bold;z-index:5;;-webkit-text-stroke:0.21px #fff"><span class="t" id="t79" style="display:inline-block;">성공</span></div>
<div class="a" style="left:748.0px;top:1273.0px;height:40px;line-height:40px;font-size:27.0px;color:#fff;font-weight:bold;z-index:5;;-webkit-text-stroke:0.34px #fff"><span class="t" id="t80" style="display:inline-block;transform:scaleX(0.8882);transform-origin:left center;">14,700 명</span></div>
<div class="a" style="left:879.0px;top:1278.5px;height:33px;line-height:33px;font-size:22.0px;color:#fff;font-weight:normal;z-index:5;"><span class="t" id="t81" style="display:inline-block;transform:scaleX(1.0443);transform-origin:left center;">98%</span></div>
<div class="a" style="left:1061.5px;top:1242.5px;height:26px;line-height:26px;font-size:17.0px;color:#fff;font-weight:bold;z-index:5;;-webkit-text-stroke:0.21px #fff"><span class="t" id="t82" style="display:inline-block;">클릭</span></div>
<div class="a" style="left:1061.5px;top:1273.0px;height:40px;line-height:40px;font-size:27.0px;color:#fff;font-weight:bold;z-index:5;;-webkit-text-stroke:0.34px #fff"><span class="t" id="t83" style="display:inline-block;transform:scaleX(0.8915);transform-origin:left center;">3,750 명</span></div>
<div class="a" style="left:1179.5px;top:1278.5px;height:33px;line-height:33px;font-size:22.0px;color:#fff;font-weight:normal;z-index:5;"><span class="t" id="t84" style="display:inline-block;transform:scaleX(1.0443);transform-origin:left center;">25%</span></div>
<div class="a" style="left:1375.0px;top:1242.5px;height:26px;line-height:26px;font-size:17.0px;color:#fff;font-weight:bold;z-index:5;;-webkit-text-stroke:0.21px #fff"><span class="t" id="t85" style="display:inline-block;">주문 페이지</span></div>
<div class="a" style="left:1375.0px;top:1273.0px;height:40px;line-height:40px;font-size:27.0px;color:#fff;font-weight:bold;z-index:5;;-webkit-text-stroke:0.34px #fff"><span class="t" id="t86" style="display:inline-block;transform:scaleX(0.8817);transform-origin:left center;">1,720 명</span></div>
<div class="a" style="left:1492.0px;top:1278.5px;height:33px;line-height:33px;font-size:22.0px;color:#fff;font-weight:normal;z-index:5;"><span class="t" id="t87" style="display:inline-block;transform:scaleX(1.0413);transform-origin:left center;">11.47%</span></div>
<div class="a" style="left:1688.5px;top:1242.5px;height:26px;line-height:26px;font-size:17.0px;color:#fff;font-weight:bold;z-index:5;;-webkit-text-stroke:0.21px #fff"><span class="t" id="t88" style="display:inline-block;">주문 완료</span></div>
<div class="a" style="left:1688.5px;top:1273.0px;height:40px;line-height:40px;font-size:27.0px;color:#fff;font-weight:bold;z-index:5;;-webkit-text-stroke:0.34px #fff"><span class="t" id="t89" style="display:inline-block;transform:scaleX(0.8924);transform-origin:left center;">540 명</span></div>
<div class="a" style="left:1786.5px;top:1278.5px;height:33px;line-height:33px;font-size:22.0px;color:#fff;font-weight:normal;z-index:5;"><span class="t" id="t90" style="display:inline-block;transform:scaleX(1.0368);transform-origin:left center;">3.6%</span></div>
<div class="a" style="right:1626.5px;top:1700.0px;height:26px;line-height:26px;font-size:17.0px;color:#fff;font-weight:bold;z-index:5;;-webkit-text-stroke:0.21px #fff"><span class="t" id="t91" style="display:inline-block;">발송 실패</span></div>
<div class="a" style="right:1626.5px;top:1731.5px;height:40px;line-height:40px;font-size:27.0px;color:#fff;font-weight:bold;z-index:5;;-webkit-text-stroke:0.34px #fff"><span class="t" id="t92" style="display:inline-block;transform:scaleX(0.8798);transform-origin:right center;">300 명</span></div>
<div class="a" style="right:1723.5px;top:1737.0px;height:33px;line-height:33px;font-size:22.0px;color:#fff;font-weight:normal;z-index:5;"><span class="t" id="t93" style="display:inline-block;transform:scaleX(1.0064);transform-origin:right center;">2%</span></div>
<div class="a" style="right:1313.0px;top:1700.0px;height:26px;line-height:26px;font-size:17.0px;color:#fff;font-weight:bold;z-index:5;;-webkit-text-stroke:0.21px #fff"><span class="t" id="t94" style="display:inline-block;">클릭 안함</span></div>
<div class="a" style="right:1313.0px;top:1731.5px;height:40px;line-height:40px;font-size:27.0px;color:#fff;font-weight:bold;z-index:5;;-webkit-text-stroke:0.34px #fff"><span class="t" id="t95" style="display:inline-block;transform:scaleX(0.8839);transform-origin:right center;">10,950 명</span></div>
<div class="a" style="right:1443.5px;top:1737.0px;height:33px;line-height:33px;font-size:22.0px;color:#fff;font-weight:normal;z-index:5;"><span class="t" id="t96" style="display:inline-block;transform:scaleX(1.0318);transform-origin:right center;">75.49%</span></div>
<div class="a" style="right:999.5px;top:1700.0px;height:26px;line-height:26px;font-size:17.0px;color:#fff;font-weight:bold;z-index:5;;-webkit-text-stroke:0.21px #fff"><span class="t" id="t97" style="display:inline-block;">주문 페이지 도달 안함</span></div>
<div class="a" style="right:999.5px;top:1731.5px;height:40px;line-height:40px;font-size:27.0px;color:#fff;font-weight:bold;z-index:5;;-webkit-text-stroke:0.34px #fff"><span class="t" id="t98" style="display:inline-block;transform:scaleX(0.8915);transform-origin:right center;">2,030 명</span></div>
<div class="a" style="right:1117.5px;top:1737.0px;height:33px;line-height:33px;font-size:22.0px;color:#fff;font-weight:normal;z-index:5;"><span class="t" id="t99" style="display:inline-block;transform:scaleX(1.0318);transform-origin:right center;">54.24%</span></div>
<div class="a" style="right:686.0px;top:1700.0px;height:26px;line-height:26px;font-size:17.0px;color:#fff;font-weight:bold;z-index:5;;-webkit-text-stroke:0.21px #fff"><span class="t" id="t100" style="display:inline-block;">주문 안함</span></div>
<div class="a" style="right:686.0px;top:1731.5px;height:40px;line-height:40px;font-size:27.0px;color:#fff;font-weight:bold;z-index:5;;-webkit-text-stroke:0.34px #fff"><span class="t" id="t101" style="display:inline-block;transform:scaleX(0.8964);transform-origin:right center;">1,180 명</span></div>
<div class="a" style="right:804.5px;top:1737.0px;height:33px;line-height:33px;font-size:22.0px;color:#fff;font-weight:normal;z-index:5;"><span class="t" id="t102" style="display:inline-block;transform:scaleX(1.0318);transform-origin:right center;">68.61%</span></div>
<div class="a" style="left:65px;top:1059px;width:2179px;height:814px;border:3px solid #eea22b;z-index:30"></div>
<div class="a" style="left:45.3px;top:1457.2px;width:40px;height:40px;border-radius:50%;background:#f8a305;box-shadow:0 0 0 2px #fdd690;z-index:31;color:#fff;font-weight:bold;font-size:23px;line-height:40px;text-align:center">6</div>
<div class="a" style="left:68.0px;top:1890.0px;width:2168.0px;height:695.0px;background:#fff;z-index:1;border-radius:8px;box-shadow:0 2px 16px rgba(60,65,100,.07)"></div>
<div class="a" style="left:68.0px;top:1890.0px;width:2168.0px;height:79.5px;background:#fff;z-index:2;border-radius:8px 8px 0 0;box-shadow:0 6px 14px rgba(60,65,110,.07)"></div>
<div class="a" style="left:96.0px;top:1912.8px;height:36px;line-height:36px;font-size:24.0px;color:#4a4c5c;font-weight:bold;z-index:3;;-webkit-text-stroke:0.30px #4a4c5c"><span class="t" id="t103" style="display:inline-block;transform:scaleX(0.9236);transform-origin:left center;">데이터 추이</span></div>
<div class="a" style="left:2110.5px;top:1903.0px;width:108.5px;height:54.0px;background:#f3f4f7;z-index:3;border-radius:8px"></div>
<div class="a" style="left:2110.5px;top:1903.0px;width:54.5px;height:54.0px;background:#fff;z-index:4;border-radius:8px 0 0 8px;box-shadow:0 0 0 1px #e3ecfb, 0 2px 6px rgba(80,120,200,.10)"></div>
<svg class="a" style="left:2124.0px;top:1917.0px;z-index:5;" width="28" height="26" viewBox="0 0 28 26"><path d="M2 1.5 V24.5 H26.5" stroke="#4a86e8" stroke-width="1.8" fill="none"/><rect x="6.5" y="14" width="3.6" height="8" fill="#4a86e8"/><rect x="12.5" y="10" width="3.6" height="12" fill="#4a86e8"/><rect x="18.5" y="6" width="3.6" height="16" fill="#4a86e8"/></svg>
<svg class="a" style="left:2178.0px;top:1917.0px;z-index:5;" width="28" height="26" viewBox="0 0 28 26"><path d="M2 1.5 V24.5 H26.5" stroke="#c4c5cc" stroke-width="1.8" fill="none"/><path d="M5.5 20 Q17 19 20 5" stroke="#b9bac2" stroke-width="2.6" fill="none" stroke-linecap="round"/></svg>
<div class="a" style="left:388.0px;top:2047.8px;width:1567.0px;height:1.5px;background:#ebebf0;z-index:2;"></div>
<div class="a" style="right:1927.0px;top:2035.6px;height:26px;line-height:26px;font-size:17.0px;color:#c3c4cc;font-weight:normal;z-index:3;"><span class="t" id="t104" style="display:inline-block;">350</span></div>
<div class="a" style="left:388.0px;top:2136.2px;width:1567.0px;height:1.5px;background:#ebebf0;z-index:2;"></div>
<div class="a" style="right:1927.0px;top:2124.0px;height:26px;line-height:26px;font-size:17.0px;color:#c3c4cc;font-weight:normal;z-index:3;"><span class="t" id="t105" style="display:inline-block;">250</span></div>
<div class="a" style="left:388.0px;top:2225.2px;width:1567.0px;height:1.5px;background:#ebebf0;z-index:2;"></div>
<div class="a" style="right:1927.0px;top:2213.0px;height:26px;line-height:26px;font-size:17.0px;color:#c3c4cc;font-weight:normal;z-index:3;"><span class="t" id="t106" style="display:inline-block;">150</span></div>
<div class="a" style="left:388.0px;top:2313.6px;width:1567.0px;height:1.5px;background:#ebebf0;z-index:2;"></div>
<div class="a" style="right:1927.0px;top:2301.3px;height:26px;line-height:26px;font-size:17.0px;color:#c3c4cc;font-weight:normal;z-index:3;"><span class="t" id="t107" style="display:inline-block;">50</span></div>
<div class="a" style="left:388.0px;top:2401.8px;width:1567.0px;height:1.8px;background:#c9cad3;z-index:3;"></div>
<div class="a" style="right:1927.0px;top:2389.7px;height:26px;line-height:26px;font-size:17.0px;color:#c3c4cc;font-weight:normal;z-index:3;"><span class="t" id="t108" style="display:inline-block;">0</span></div>
<div class="a" style="left:284.9px;width:400px;text-align:center;top:2423.0px;height:26px;line-height:26px;font-size:17.0px;color:#4c4f62;font-weight:normal;z-index:4;"><span class="t" id="t109" style="display:inline-block;transform:scaleX(0.9216);transform-origin:center center;">04월 16일 18시</span></div>
<div class="a" style="left:514.0px;width:400px;text-align:center;top:2423.0px;height:26px;line-height:26px;font-size:17.0px;color:#4c4f62;font-weight:normal;z-index:4;"><span class="t" id="t110" style="display:inline-block;transform:scaleX(0.9216);transform-origin:center center;">04월 16일 17시</span></div>
<div class="a" style="left:743.1px;width:400px;text-align:center;top:2423.0px;height:26px;line-height:26px;font-size:17.0px;color:#4c4f62;font-weight:normal;z-index:4;"><span class="t" id="t111" style="display:inline-block;transform:scaleX(0.9216);transform-origin:center center;">04월 16일 16시</span></div>
<div class="a" style="left:972.1px;width:400px;text-align:center;top:2423.0px;height:26px;line-height:26px;font-size:17.0px;color:#4c4f62;font-weight:normal;z-index:4;"><span class="t" id="t112" style="display:inline-block;transform:scaleX(0.9216);transform-origin:center center;">04월 16일 15시</span></div>
<div class="a" style="left:1201.2px;width:400px;text-align:center;top:2423.0px;height:26px;line-height:26px;font-size:17.0px;color:#4c4f62;font-weight:normal;z-index:4;"><span class="t" id="t113" style="display:inline-block;transform:scaleX(0.9216);transform-origin:center center;">04월 16일 14시</span></div>
<div class="a" style="left:1430.3px;width:400px;text-align:center;top:2423.0px;height:26px;line-height:26px;font-size:17.0px;color:#4c4f62;font-weight:normal;z-index:4;"><span class="t" id="t114" style="display:inline-block;transform:scaleX(0.9216);transform-origin:center center;">04월 16일 13시</span></div>
<div class="a" style="left:1659.4px;width:400px;text-align:center;top:2423.0px;height:26px;line-height:26px;font-size:17.0px;color:#4c4f62;font-weight:normal;z-index:4;"><span class="t" id="t115" style="display:inline-block;transform:scaleX(0.9216);transform-origin:center center;">04월 16일 12시</span></div>
<svg class="a" style="left:388.0px;top:2000.0px;z-index:4;" width="1570" height="403" viewBox="0 0 1570 403"><rect x="64.6" y="171.5" width="27" height="230.5" fill="#203a6f"/><rect x="102.8" y="258.3" width="27" height="143.7" fill="#538ef8"/><rect x="293.7" y="267.0" width="27" height="135.0" fill="#203a6f"/><rect x="331.9" y="212.0" width="27" height="190.0" fill="#538ef8"/><rect x="522.8" y="157.5" width="27" height="244.5" fill="#203a6f"/><rect x="561.0" y="280.4" width="27" height="121.6" fill="#538ef8"/><rect x="751.8" y="294.0" width="27" height="108.0" fill="#203a6f"/><rect x="790.0" y="185.0" width="27" height="217.0" fill="#538ef8"/><rect x="980.9" y="171.6" width="27" height="230.4" fill="#203a6f"/><rect x="1019.1" y="89.7" width="27" height="312.3" fill="#538ef8"/><rect x="1210.0" y="307.4" width="27" height="94.6" fill="#203a6f"/><rect x="1248.2" y="294.0" width="27" height="108.0" fill="#538ef8"/><rect x="1439.1" y="307.4" width="27" height="94.6" fill="#203a6f"/><rect x="1477.3" y="286.8" width="27" height="115.2" fill="#538ef8"/></svg>
<div class="a" style="left:1057.7px;top:2542px;width:14px;height:14px;border-radius:50%;background:#203a6f;z-index:4"></div>
<div class="a" style="left:1083.0px;top:2537.5px;height:24px;line-height:24px;font-size:16.0px;color:#5f6170;font-weight:normal;z-index:4;"><span class="t" id="t116" style="display:inline-block;transform:scaleX(0.8960);transform-origin:left center;">클릭 수</span></div>
<div class="a" style="left:1172px;top:2542px;width:14px;height:14px;border-radius:50%;background:#538ef8;z-index:4"></div>
<div class="a" style="left:1197.0px;top:2537.5px;height:24px;line-height:24px;font-size:16.0px;color:#5f6170;font-weight:normal;z-index:4;"><span class="t" id="t117" style="display:inline-block;transform:scaleX(0.8960);transform-origin:left center;">주문 수</span></div>
<div class="a" style="left:65px;top:1886px;width:2179px;height:701px;border:3px solid #eea22b;z-index:30"></div>
<div class="a" style="left:45.3px;top:2213.9px;width:40px;height:40px;border-radius:50%;background:#f8a305;box-shadow:0 0 0 2px #fdd690;z-index:31;color:#fff;font-weight:bold;font-size:23px;line-height:40px;text-align:center">7</div>
<div class="a" style="left:68.0px;top:2610.0px;width:2168.0px;height:1187.0px;background:#fff;z-index:1;border-radius:8px;box-shadow:0 2px 16px rgba(60,65,100,.07)"></div>
<div class="a" style="left:68.0px;top:2610.0px;width:2168.0px;height:76.5px;background:#fff;z-index:2;border-radius:8px 8px 0 0;box-shadow:0 6px 14px rgba(60,65,110,.07)"></div>
<div class="a" style="left:96.0px;top:2631.2px;height:36px;line-height:36px;font-size:24.0px;color:#4a4c5c;font-weight:bold;z-index:3;;-webkit-text-stroke:0.30px #4a4c5c"><span class="t" id="t118" style="display:inline-block;transform:scaleX(0.9225);transform-origin:left center;">데이터 테이블</span></div>
<div class="a" style="left:1985.6px;top:2620.0px;width:52.9px;height:53.4px;background:#fff;z-index:4;border:1.5px solid #e6e7ec;border-radius:7px"></div>
<svg class="a" style="left:1999.0px;top:2634.0px;z-index:5;" width="28" height="26" viewBox="0 0 28 26"><path d="M2 13 V24 H26 V13" stroke="#3f405a" stroke-width="2" fill="none"/><path d="M14 2 V18 M8 12 L14 18 L20 12" stroke="#3f405a" stroke-width="2.4" fill="none" stroke-linecap="round" stroke-linejoin="round"/></svg>
<div class="a" style="left:2056.5px;top:2620.0px;width:161.9px;height:53.4px;background:#fff;z-index:4;border:1.5px solid #e6e7ec;border-radius:7px"></div>
<svg class="a" style="left:2070.0px;top:2637.0px;z-index:5;" width="22" height="20" viewBox="0 0 22 20"><path d="M1.5 3 H20 M1.5 10 H14 M1.5 17 H8.5" stroke="#b5b6be" stroke-width="2.4" stroke-linecap="round"/></svg>
<div class="a" style="left:2115.0px;top:2632.0px;height:30px;line-height:30px;font-size:20.0px;color:#2f3042;font-weight:normal;z-index:5;"><span class="t" id="t119" style="display:inline-block;transform:scaleX(0.8996);transform-origin:left center;">10개씩</span></div>
<svg class="a" style="left:2184.0px;top:2640.0px;z-index:5;" width="18" height="14" viewBox="0 0 18 14"><path d="M2.5 3.5 L9 10 L15.5 3.5" stroke="#5f6170" stroke-width="2.4" fill="none" stroke-linecap="round" stroke-linejoin="round"/></svg>
<div class="a" style="left:3.5px;width:400px;text-align:center;top:2715.6px;height:32px;line-height:32px;font-size:21.0px;color:#5c5e6c;font-weight:bold;z-index:4;;-webkit-text-stroke:0.26px #5c5e6c"><span class="t" id="t120" style="display:inline-block;">시간</span></div>
<div class="a" style="left:477.0px;top:2715.6px;height:32px;line-height:32px;font-size:21.0px;color:#5c5e6c;font-weight:bold;z-index:4;;-webkit-text-stroke:0.26px #5c5e6c"><span class="t" id="t121" style="display:inline-block;transform:scaleX(0.9296);transform-origin:left center;">클릭 수</span></div>
<div class="a" style="left:832.0px;top:2715.6px;height:32px;line-height:32px;font-size:21.0px;color:#5c5e6c;font-weight:bold;z-index:4;;-webkit-text-stroke:0.26px #5c5e6c"><span class="t" id="t122" style="display:inline-block;transform:scaleX(0.9383);transform-origin:left center;">클릭 전환율</span></div>
<div class="a" style="left:1186.3px;top:2715.6px;height:32px;line-height:32px;font-size:21.0px;color:#5c5e6c;font-weight:bold;z-index:4;;-webkit-text-stroke:0.26px #5c5e6c"><span class="t" id="t123" style="display:inline-block;transform:scaleX(0.9296);transform-origin:left center;">주문 수</span></div>
<div class="a" style="left:1540.4px;top:2715.6px;height:32px;line-height:32px;font-size:21.0px;color:#5c5e6c;font-weight:bold;z-index:4;;-webkit-text-stroke:0.26px #5c5e6c"><span class="t" id="t124" style="display:inline-block;transform:scaleX(0.9383);transform-origin:left center;">주문 전환율</span></div>
<div class="a" style="left:1894.6px;top:2715.6px;height:32px;line-height:32px;font-size:21.0px;color:#5c5e6c;font-weight:bold;z-index:4;;-webkit-text-stroke:0.26px #5c5e6c"><span class="t" id="t125" style="display:inline-block;transform:scaleX(0.9238);transform-origin:left center;">전환 금액</span></div>
<div class="a" style="left:70.0px;top:2776.8px;width:2166.0px;height:80.8px;background:#2c2946;z-index:3;"></div>
<div class="a" style="left:3.5px;width:400px;text-align:center;top:2801.5px;height:32px;line-height:32px;font-size:21.0px;color:#fff;font-weight:bold;z-index:4;;-webkit-text-stroke:0.26px #fff"><span class="t" id="t126" style="display:inline-block;">합계</span></div>
<div class="a" style="left:477.0px;top:2802.5px;height:30px;line-height:30px;font-size:20.0px;color:#fff;font-weight:normal;z-index:4;"><span class="t" id="t127" style="display:inline-block;transform:scaleX(0.9789);transform-origin:left center;">25,252,525</span></div>
<div class="a" style="left:832.0px;top:2802.5px;height:30px;line-height:30px;font-size:20.0px;color:#fff;font-weight:normal;z-index:4;"><span class="t" id="t128" style="display:inline-block;transform:scaleX(1.0170);transform-origin:left center;">25.25%</span></div>
<div class="a" style="left:1186.3px;top:2802.5px;height:30px;line-height:30px;font-size:20.0px;color:#fff;font-weight:normal;z-index:4;"><span class="t" id="t129" style="display:inline-block;transform:scaleX(0.9789);transform-origin:left center;">25,252,525</span></div>
<div class="a" style="left:1540.4px;top:2802.5px;height:30px;line-height:30px;font-size:20.0px;color:#fff;font-weight:normal;z-index:4;"><span class="t" id="t130" style="display:inline-block;transform:scaleX(1.0170);transform-origin:left center;">25.25%</span></div>
<div class="a" style="left:1894.6px;top:2802.5px;height:30px;line-height:30px;font-size:20.0px;color:#fff;font-weight:normal;z-index:4;"><span class="t" id="t131" style="display:inline-block;transform:scaleX(0.9741);transform-origin:left center;">25,252,525원</span></div>
<div class="a" style="left:4.5px;width:400px;text-align:center;top:2886.7px;height:30px;line-height:30px;font-size:20.0px;color:#6f717d;font-weight:normal;z-index:4;"><span class="t" id="t132" style="display:inline-block;transform:scaleX(1.0195);transform-origin:center center;">2024-04-16 18:00</span></div>
<div class="a" style="left:477.0px;top:2886.7px;height:30px;line-height:30px;font-size:20.0px;color:#6f717d;font-weight:normal;z-index:4;"><span class="t" id="t133" style="display:inline-block;transform:scaleX(0.9789);transform-origin:left center;">25,252,525</span></div>
<div class="a" style="left:832.0px;top:2886.7px;height:30px;line-height:30px;font-size:20.0px;color:#6f717d;font-weight:normal;z-index:4;"><span class="t" id="t134" style="display:inline-block;transform:scaleX(1.0170);transform-origin:left center;">25.25%</span></div>
<div class="a" style="left:1186.3px;top:2886.7px;height:30px;line-height:30px;font-size:20.0px;color:#6f717d;font-weight:normal;z-index:4;"><span class="t" id="t135" style="display:inline-block;transform:scaleX(0.9789);transform-origin:left center;">25,252,525</span></div>
<div class="a" style="left:1540.4px;top:2886.7px;height:30px;line-height:30px;font-size:20.0px;color:#6f717d;font-weight:normal;z-index:4;"><span class="t" id="t136" style="display:inline-block;transform:scaleX(1.0170);transform-origin:left center;">25.25%</span></div>
<div class="a" style="left:1894.6px;top:2886.7px;height:30px;line-height:30px;font-size:20.0px;color:#6f717d;font-weight:normal;z-index:4;"><span class="t" id="t137" style="display:inline-block;transform:scaleX(0.9741);transform-origin:left center;">25,252,525원</span></div>
<div class="a" style="left:70.0px;top:2941.1px;width:2070.0px;height:1.5px;background:#e8e9ee;z-index:3;"></div>
<div class="a" style="left:4.5px;width:400px;text-align:center;top:2969.9px;height:30px;line-height:30px;font-size:20.0px;color:#6f717d;font-weight:normal;z-index:4;"><span class="t" id="t138" style="display:inline-block;transform:scaleX(1.0195);transform-origin:center center;">2024-04-16 17:00</span></div>
<div class="a" style="left:477.0px;top:2969.9px;height:30px;line-height:30px;font-size:20.0px;color:#6f717d;font-weight:normal;z-index:4;"><span class="t" id="t139" style="display:inline-block;transform:scaleX(0.9789);transform-origin:left center;">25,252,525</span></div>
<div class="a" style="left:832.0px;top:2969.9px;height:30px;line-height:30px;font-size:20.0px;color:#6f717d;font-weight:normal;z-index:4;"><span class="t" id="t140" style="display:inline-block;transform:scaleX(1.0170);transform-origin:left center;">25.25%</span></div>
<div class="a" style="left:1186.3px;top:2969.9px;height:30px;line-height:30px;font-size:20.0px;color:#6f717d;font-weight:normal;z-index:4;"><span class="t" id="t141" style="display:inline-block;transform:scaleX(0.9789);transform-origin:left center;">25,252,525</span></div>
<div class="a" style="left:1540.4px;top:2969.9px;height:30px;line-height:30px;font-size:20.0px;color:#6f717d;font-weight:normal;z-index:4;"><span class="t" id="t142" style="display:inline-block;transform:scaleX(1.0170);transform-origin:left center;">25.25%</span></div>
<div class="a" style="left:1894.6px;top:2969.9px;height:30px;line-height:30px;font-size:20.0px;color:#6f717d;font-weight:normal;z-index:4;"><span class="t" id="t143" style="display:inline-block;transform:scaleX(0.9741);transform-origin:left center;">25,252,525원</span></div>
<div class="a" style="left:70.0px;top:3024.2px;width:2070.0px;height:1.5px;background:#e8e9ee;z-index:3;"></div>
<div class="a" style="left:4.5px;width:400px;text-align:center;top:3053.1px;height:30px;line-height:30px;font-size:20.0px;color:#6f717d;font-weight:normal;z-index:4;"><span class="t" id="t144" style="display:inline-block;transform:scaleX(1.0195);transform-origin:center center;">2024-04-16 16:00</span></div>
<div class="a" style="left:477.0px;top:3053.1px;height:30px;line-height:30px;font-size:20.0px;color:#6f717d;font-weight:normal;z-index:4;"><span class="t" id="t145" style="display:inline-block;transform:scaleX(0.9789);transform-origin:left center;">25,252,525</span></div>
<div class="a" style="left:832.0px;top:3053.1px;height:30px;line-height:30px;font-size:20.0px;color:#6f717d;font-weight:normal;z-index:4;"><span class="t" id="t146" style="display:inline-block;transform:scaleX(1.0170);transform-origin:left center;">25.25%</span></div>
<div class="a" style="left:1186.3px;top:3053.1px;height:30px;line-height:30px;font-size:20.0px;color:#6f717d;font-weight:normal;z-index:4;"><span class="t" id="t147" style="display:inline-block;transform:scaleX(0.9789);transform-origin:left center;">25,252,525</span></div>
<div class="a" style="left:1540.4px;top:3053.1px;height:30px;line-height:30px;font-size:20.0px;color:#6f717d;font-weight:normal;z-index:4;"><span class="t" id="t148" style="display:inline-block;transform:scaleX(1.0170);transform-origin:left center;">25.25%</span></div>
<div class="a" style="left:1894.6px;top:3053.1px;height:30px;line-height:30px;font-size:20.0px;color:#6f717d;font-weight:normal;z-index:4;"><span class="t" id="t149" style="display:inline-block;transform:scaleX(0.9741);transform-origin:left center;">25,252,525원</span></div>
<div class="a" style="left:70.0px;top:3107.2px;width:2070.0px;height:1.5px;background:#e8e9ee;z-index:3;"></div>
<div class="a" style="left:4.5px;width:400px;text-align:center;top:3136.3px;height:30px;line-height:30px;font-size:20.0px;color:#6f717d;font-weight:normal;z-index:4;"><span class="t" id="t150" style="display:inline-block;transform:scaleX(1.0195);transform-origin:center center;">2024-04-16 15:00</span></div>
<div class="a" style="left:477.0px;top:3136.3px;height:30px;line-height:30px;font-size:20.0px;color:#6f717d;font-weight:normal;z-index:4;"><span class="t" id="t151" style="display:inline-block;transform:scaleX(0.9789);transform-origin:left center;">25,252,525</span></div>
<div class="a" style="left:832.0px;top:3136.3px;height:30px;line-height:30px;font-size:20.0px;color:#6f717d;font-weight:normal;z-index:4;"><span class="t" id="t152" style="display:inline-block;transform:scaleX(1.0170);transform-origin:left center;">25.25%</span></div>
<div class="a" style="left:1186.3px;top:3136.3px;height:30px;line-height:30px;font-size:20.0px;color:#6f717d;font-weight:normal;z-index:4;"><span class="t" id="t153" style="display:inline-block;transform:scaleX(0.9789);transform-origin:left center;">25,252,525</span></div>
<div class="a" style="left:1540.4px;top:3136.3px;height:30px;line-height:30px;font-size:20.0px;color:#6f717d;font-weight:normal;z-index:4;"><span class="t" id="t154" style="display:inline-block;transform:scaleX(1.0170);transform-origin:left center;">25.25%</span></div>
<div class="a" style="left:1894.6px;top:3136.3px;height:30px;line-height:30px;font-size:20.0px;color:#6f717d;font-weight:normal;z-index:4;"><span class="t" id="t155" style="display:inline-block;transform:scaleX(0.9741);transform-origin:left center;">25,252,525원</span></div>
<div class="a" style="left:70.0px;top:3190.4px;width:2070.0px;height:1.5px;background:#e8e9ee;z-index:3;"></div>
<div class="a" style="left:4.5px;width:400px;text-align:center;top:3219.5px;height:30px;line-height:30px;font-size:20.0px;color:#6f717d;font-weight:normal;z-index:4;"><span class="t" id="t156" style="display:inline-block;transform:scaleX(1.0195);transform-origin:center center;">2024-04-16 14:00</span></div>
<div class="a" style="left:477.0px;top:3219.5px;height:30px;line-height:30px;font-size:20.0px;color:#6f717d;font-weight:normal;z-index:4;"><span class="t" id="t157" style="display:inline-block;transform:scaleX(0.9789);transform-origin:left center;">25,252,525</span></div>
<div class="a" style="left:832.0px;top:3219.5px;height:30px;line-height:30px;font-size:20.0px;color:#6f717d;font-weight:normal;z-index:4;"><span class="t" id="t158" style="display:inline-block;transform:scaleX(1.0170);transform-origin:left center;">25.25%</span></div>
<div class="a" style="left:1186.3px;top:3219.5px;height:30px;line-height:30px;font-size:20.0px;color:#6f717d;font-weight:normal;z-index:4;"><span class="t" id="t159" style="display:inline-block;transform:scaleX(0.9789);transform-origin:left center;">25,252,525</span></div>
<div class="a" style="left:1540.4px;top:3219.5px;height:30px;line-height:30px;font-size:20.0px;color:#6f717d;font-weight:normal;z-index:4;"><span class="t" id="t160" style="display:inline-block;transform:scaleX(1.0170);transform-origin:left center;">25.25%</span></div>
<div class="a" style="left:1894.6px;top:3219.5px;height:30px;line-height:30px;font-size:20.0px;color:#6f717d;font-weight:normal;z-index:4;"><span class="t" id="t161" style="display:inline-block;transform:scaleX(0.9741);transform-origin:left center;">25,252,525원</span></div>
<div class="a" style="left:70.0px;top:3273.5px;width:2070.0px;height:1.5px;background:#e8e9ee;z-index:3;"></div>
<div class="a" style="left:4.5px;width:400px;text-align:center;top:3302.7px;height:30px;line-height:30px;font-size:20.0px;color:#6f717d;font-weight:normal;z-index:4;"><span class="t" id="t162" style="display:inline-block;transform:scaleX(1.0195);transform-origin:center center;">2024-04-16 13:00</span></div>
<div class="a" style="left:477.0px;top:3302.7px;height:30px;line-height:30px;font-size:20.0px;color:#6f717d;font-weight:normal;z-index:4;"><span class="t" id="t163" style="display:inline-block;transform:scaleX(0.9789);transform-origin:left center;">25,252,525</span></div>
<div class="a" style="left:832.0px;top:3302.7px;height:30px;line-height:30px;font-size:20.0px;color:#6f717d;font-weight:normal;z-index:4;"><span class="t" id="t164" style="display:inline-block;transform:scaleX(1.0170);transform-origin:left center;">25.25%</span></div>
<div class="a" style="left:1186.3px;top:3302.7px;height:30px;line-height:30px;font-size:20.0px;color:#6f717d;font-weight:normal;z-index:4;"><span class="t" id="t165" style="display:inline-block;transform:scaleX(0.9789);transform-origin:left center;">25,252,525</span></div>
<div class="a" style="left:1540.4px;top:3302.7px;height:30px;line-height:30px;font-size:20.0px;color:#6f717d;font-weight:normal;z-index:4;"><span class="t" id="t166" style="display:inline-block;transform:scaleX(1.0170);transform-origin:left center;">25.25%</span></div>
<div class="a" style="left:1894.6px;top:3302.7px;height:30px;line-height:30px;font-size:20.0px;color:#6f717d;font-weight:normal;z-index:4;"><span class="t" id="t167" style="display:inline-block;transform:scaleX(0.9741);transform-origin:left center;">25,252,525원</span></div>
<div class="a" style="left:70.0px;top:3356.6px;width:2070.0px;height:1.5px;background:#e8e9ee;z-index:3;"></div>
<div class="a" style="left:4.5px;width:400px;text-align:center;top:3385.9px;height:30px;line-height:30px;font-size:20.0px;color:#6f717d;font-weight:normal;z-index:4;"><span class="t" id="t168" style="display:inline-block;transform:scaleX(1.0195);transform-origin:center center;">2024-04-16 12:00</span></div>
<div class="a" style="left:477.0px;top:3385.9px;height:30px;line-height:30px;font-size:20.0px;color:#6f717d;font-weight:normal;z-index:4;"><span class="t" id="t169" style="display:inline-block;transform:scaleX(0.9789);transform-origin:left center;">25,252,525</span></div>
<div class="a" style="left:832.0px;top:3385.9px;height:30px;line-height:30px;font-size:20.0px;color:#6f717d;font-weight:normal;z-index:4;"><span class="t" id="t170" style="display:inline-block;transform:scaleX(1.0170);transform-origin:left center;">25.25%</span></div>
<div class="a" style="left:1186.3px;top:3385.9px;height:30px;line-height:30px;font-size:20.0px;color:#6f717d;font-weight:normal;z-index:4;"><span class="t" id="t171" style="display:inline-block;transform:scaleX(0.9789);transform-origin:left center;">25,252,525</span></div>
<div class="a" style="left:1540.4px;top:3385.9px;height:30px;line-height:30px;font-size:20.0px;color:#6f717d;font-weight:normal;z-index:4;"><span class="t" id="t172" style="display:inline-block;transform:scaleX(1.0170);transform-origin:left center;">25.25%</span></div>
<div class="a" style="left:1894.6px;top:3385.9px;height:30px;line-height:30px;font-size:20.0px;color:#6f717d;font-weight:normal;z-index:4;"><span class="t" id="t173" style="display:inline-block;transform:scaleX(0.9741);transform-origin:left center;">25,252,525원</span></div>
<div class="a" style="left:70.0px;top:3439.7px;width:2070.0px;height:1.5px;background:#e8e9ee;z-index:3;"></div>
<div class="a" style="left:4.5px;width:400px;text-align:center;top:3469.1px;height:30px;line-height:30px;font-size:20.0px;color:#6f717d;font-weight:normal;z-index:4;"><span class="t" id="t174" style="display:inline-block;transform:scaleX(1.0292);transform-origin:center center;">2024-04-16 11:00</span></div>
<div class="a" style="left:477.0px;top:3469.1px;height:30px;line-height:30px;font-size:20.0px;color:#6f717d;font-weight:normal;z-index:4;"><span class="t" id="t175" style="display:inline-block;transform:scaleX(0.9789);transform-origin:left center;">25,252,525</span></div>
<div class="a" style="left:832.0px;top:3469.1px;height:30px;line-height:30px;font-size:20.0px;color:#6f717d;font-weight:normal;z-index:4;"><span class="t" id="t176" style="display:inline-block;transform:scaleX(1.0170);transform-origin:left center;">25.25%</span></div>
<div class="a" style="left:1186.3px;top:3469.1px;height:30px;line-height:30px;font-size:20.0px;color:#6f717d;font-weight:normal;z-index:4;"><span class="t" id="t177" style="display:inline-block;transform:scaleX(0.9789);transform-origin:left center;">25,252,525</span></div>
<div class="a" style="left:1540.4px;top:3469.1px;height:30px;line-height:30px;font-size:20.0px;color:#6f717d;font-weight:normal;z-index:4;"><span class="t" id="t178" style="display:inline-block;transform:scaleX(1.0170);transform-origin:left center;">25.25%</span></div>
<div class="a" style="left:1894.6px;top:3469.1px;height:30px;line-height:30px;font-size:20.0px;color:#6f717d;font-weight:normal;z-index:4;"><span class="t" id="t179" style="display:inline-block;transform:scaleX(0.9741);transform-origin:left center;">25,252,525원</span></div>
<div class="a" style="left:70.0px;top:3522.8px;width:2070.0px;height:1.5px;background:#e8e9ee;z-index:3;"></div>
<div class="a" style="left:4.5px;width:400px;text-align:center;top:3552.3px;height:30px;line-height:30px;font-size:20.0px;color:#6f717d;font-weight:normal;z-index:4;"><span class="t" id="t180" style="display:inline-block;transform:scaleX(1.0195);transform-origin:center center;">2024-04-16 10:00</span></div>
<div class="a" style="left:477.0px;top:3552.3px;height:30px;line-height:30px;font-size:20.0px;color:#6f717d;font-weight:normal;z-index:4;"><span class="t" id="t181" style="display:inline-block;transform:scaleX(0.9789);transform-origin:left center;">25,252,525</span></div>
<div class="a" style="left:832.0px;top:3552.3px;height:30px;line-height:30px;font-size:20.0px;color:#6f717d;font-weight:normal;z-index:4;"><span class="t" id="t182" style="display:inline-block;transform:scaleX(1.0170);transform-origin:left center;">25.25%</span></div>
<div class="a" style="left:1186.3px;top:3552.3px;height:30px;line-height:30px;font-size:20.0px;color:#6f717d;font-weight:normal;z-index:4;"><span class="t" id="t183" style="display:inline-block;transform:scaleX(0.9789);transform-origin:left center;">25,252,525</span></div>
<div class="a" style="left:1540.4px;top:3552.3px;height:30px;line-height:30px;font-size:20.0px;color:#6f717d;font-weight:normal;z-index:4;"><span class="t" id="t184" style="display:inline-block;transform:scaleX(1.0170);transform-origin:left center;">25.25%</span></div>
<div class="a" style="left:1894.6px;top:3552.3px;height:30px;line-height:30px;font-size:20.0px;color:#6f717d;font-weight:normal;z-index:4;"><span class="t" id="t185" style="display:inline-block;transform:scaleX(0.9741);transform-origin:left center;">25,252,525원</span></div>
<div class="a" style="left:70.0px;top:3605.9px;width:2070.0px;height:1.5px;background:#e8e9ee;z-index:3;"></div>
<div class="a" style="left:4.5px;width:400px;text-align:center;top:3635.5px;height:30px;line-height:30px;font-size:20.0px;color:#6f717d;font-weight:normal;z-index:4;"><span class="t" id="t186" style="display:inline-block;transform:scaleX(1.0195);transform-origin:center center;">2024-04-16 09:00</span></div>
<div class="a" style="left:477.0px;top:3635.5px;height:30px;line-height:30px;font-size:20.0px;color:#6f717d;font-weight:normal;z-index:4;"><span class="t" id="t187" style="display:inline-block;transform:scaleX(0.9789);transform-origin:left center;">25,252,525</span></div>
<div class="a" style="left:832.0px;top:3635.5px;height:30px;line-height:30px;font-size:20.0px;color:#6f717d;font-weight:normal;z-index:4;"><span class="t" id="t188" style="display:inline-block;transform:scaleX(1.0170);transform-origin:left center;">25.25%</span></div>
<div class="a" style="left:1186.3px;top:3635.5px;height:30px;line-height:30px;font-size:20.0px;color:#6f717d;font-weight:normal;z-index:4;"><span class="t" id="t189" style="display:inline-block;transform:scaleX(0.9789);transform-origin:left center;">25,252,525</span></div>
<div class="a" style="left:1540.4px;top:3635.5px;height:30px;line-height:30px;font-size:20.0px;color:#6f717d;font-weight:normal;z-index:4;"><span class="t" id="t190" style="display:inline-block;transform:scaleX(1.0170);transform-origin:left center;">25.25%</span></div>
<div class="a" style="left:1894.6px;top:3635.5px;height:30px;line-height:30px;font-size:20.0px;color:#6f717d;font-weight:normal;z-index:4;"><span class="t" id="t191" style="display:inline-block;transform:scaleX(0.9741);transform-origin:left center;">25,252,525원</span></div>
<div class="a" style="left:70.0px;top:3689.0px;width:2070.0px;height:1.5px;background:#e8e9ee;z-index:3;"></div>
<div class="a" style="left:895px;top:3734px;width:24px;height:24px;z-index:4"><svg width="24" height="24"><path d="M15 5 L9 12 L15 19" stroke="#c5d6f6" stroke-width="2.4" fill="none" stroke-linecap="round" stroke-linejoin="round"/></svg></div>
<div class="a" style="left:934.0px;top:3718.5px;width:54.3px;height:53.8px;background:#528cf8;z-index:3;"></div>
<div class="a" style="left:761.2px;width:400px;text-align:center;top:3729.0px;height:33px;line-height:33px;font-size:22.0px;color:#fff;font-weight:bold;z-index:4;"><span class="t" id="t192" style="display:inline-block;">1</span></div>
<div class="a" style="left:815.7px;width:400px;text-align:center;top:3729.0px;height:33px;line-height:33px;font-size:22.0px;color:#4a4c5c;font-weight:normal;z-index:4;"><span class="t" id="t193" style="display:inline-block;">2</span></div>
<div class="a" style="left:870.2px;width:400px;text-align:center;top:3729.0px;height:33px;line-height:33px;font-size:22.0px;color:#4a4c5c;font-weight:normal;z-index:4;"><span class="t" id="t194" style="display:inline-block;">3</span></div>
<div class="a" style="left:924.7px;width:400px;text-align:center;top:3729.0px;height:33px;line-height:33px;font-size:22.0px;color:#4a4c5c;font-weight:normal;z-index:4;"><span class="t" id="t195" style="display:inline-block;">4</span></div>
<div class="a" style="left:979.2px;width:400px;text-align:center;top:3729.0px;height:33px;line-height:33px;font-size:22.0px;color:#4a4c5c;font-weight:normal;z-index:4;"><span class="t" id="t196" style="display:inline-block;">5</span></div>
<div class="a" style="left:1033.7px;width:400px;text-align:center;top:3729.0px;height:33px;line-height:33px;font-size:22.0px;color:#4a4c5c;font-weight:normal;z-index:4;"><span class="t" id="t197" style="display:inline-block;">6</span></div>
<div class="a" style="left:1088.2px;width:400px;text-align:center;top:3729.0px;height:33px;line-height:33px;font-size:22.0px;color:#4a4c5c;font-weight:normal;z-index:4;"><span class="t" id="t198" style="display:inline-block;">7</span></div>
<div class="a" style="left:1142.7px;width:400px;text-align:center;top:3729.0px;height:33px;line-height:33px;font-size:22.0px;color:#4a4c5c;font-weight:normal;z-index:4;"><span class="t" id="t199" style="display:inline-block;">8</span></div>
<div class="a" style="left:1385px;top:3733px;width:24px;height:24px;z-index:4"><svg width="24" height="24"><path d="M9 5 L15 12 L9 19" stroke="#4a86e8" stroke-width="2.6" fill="none" stroke-linecap="round" stroke-linejoin="round"/></svg></div>
<div class="a" style="left:65px;top:2607px;width:2179px;height:1193px;border:3px solid #eea22b;z-index:30"></div>
<div class="a" style="left:45.3px;top:3255.3px;width:40px;height:40px;border-radius:50%;background:#f8a305;box-shadow:0 0 0 2px #fdd690;z-index:31;color:#fff;font-weight:bold;font-size:23px;line-height:40px;text-align:center">8</div>
</body></html>
